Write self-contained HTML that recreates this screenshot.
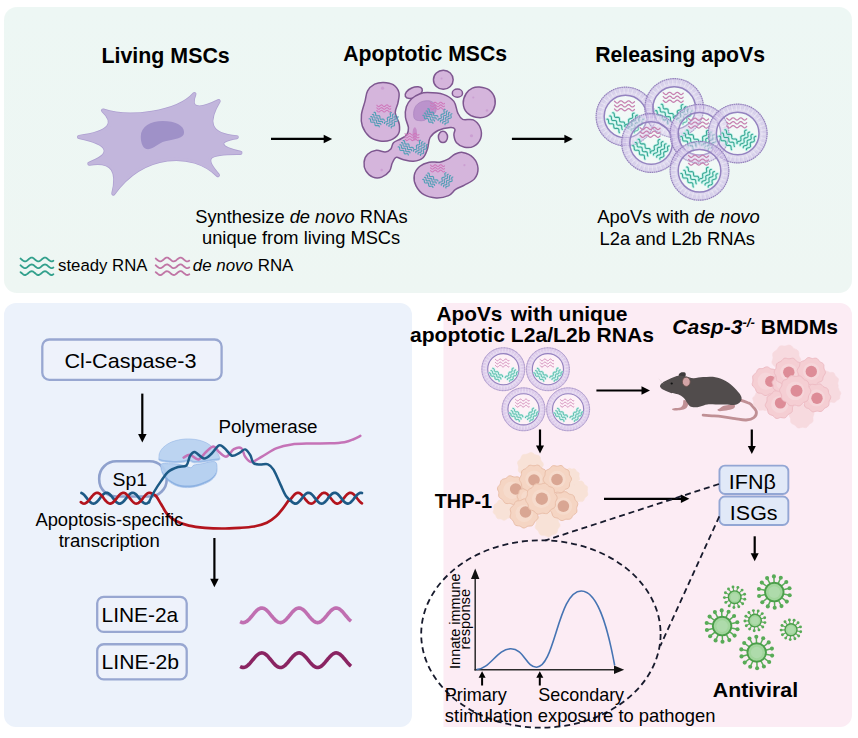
<!DOCTYPE html>
<html><head><meta charset="utf-8"><title>Graphical abstract</title>
<style>
html,body{margin:0;padding:0;background:#fff;}
body{width:858px;height:738px;overflow:hidden;font-family:"Liberation Sans",sans-serif;}
svg{display:block;}
svg text{font-family:"Liberation Sans",sans-serif;fill:#000;}
</style></head><body>
<svg width="858" height="738" viewBox="0 0 858 738">
<defs>
<linearGradient id="gTop" x1="0" y1="0" x2="0" y2="1"><stop offset="0" stop-color="#edf7f4"/><stop offset="1" stop-color="#eef6f3"/></linearGradient>

<g id="ves"><circle r="21.3" fill="#ffffff" opacity="0.25"/><circle r="25.5" fill="none" stroke="#c4b3e2" stroke-width="8.6" opacity="0.6"/><circle r="23.4" fill="none" stroke="#ffffff" stroke-width="3.2" opacity="0.2"/><circle r="25.6" fill="none" stroke="#ffffff" stroke-width="4.5" stroke-dasharray="1.6 2.6" opacity="0.3"/><circle r="25.5" fill="none" stroke="#ffffff" stroke-width="6.5" stroke-dasharray="0.6 1.5" opacity="0.2"/><circle r="29.4" fill="none" stroke="#8c79b6" stroke-width="1.15" stroke-dasharray="1.6 0.6" opacity="0.9"/><circle r="21.3" fill="none" stroke="#8f7dbd" stroke-width="1.5" opacity="0.95"/><path d="M-11.0,-15.3 L-10.4,-14.8 L-9.8,-14.2 L-9.2,-13.7 L-8.6,-13.5 L-8.0,-13.5 L-7.4,-13.8 L-6.8,-14.3 L-6.2,-14.9 L-5.5,-15.4 L-4.9,-15.7 L-4.3,-15.7 L-3.7,-15.5 L-3.1,-15.1 L-2.5,-14.5 L-1.9,-14.0 L-1.3,-13.6 L-0.7,-13.5 L-0.1,-13.6 L0.5,-14.0 L1.1,-14.5 L1.7,-15.1 L2.3,-15.5 L2.9,-15.7 L3.5,-15.7 L4.2,-15.3 L4.8,-14.8 L5.4,-14.2 L6.0,-13.8 L6.6,-13.5 L7.2,-13.5 L7.8,-13.8 L8.4,-14.2 L9.0,-14.8" fill="none" stroke="#c680b0" stroke-width="1.25" stroke-linecap="round"/><path d="M-11.0,-11.4 L-10.4,-10.9 L-9.8,-10.3 L-9.2,-9.8 L-8.6,-9.6 L-8.0,-9.6 L-7.4,-9.9 L-6.8,-10.4 L-6.2,-11.0 L-5.5,-11.5 L-4.9,-11.8 L-4.3,-11.8 L-3.7,-11.6 L-3.1,-11.2 L-2.5,-10.6 L-1.9,-10.1 L-1.3,-9.7 L-0.7,-9.6 L-0.1,-9.7 L0.5,-10.1 L1.1,-10.6 L1.7,-11.2 L2.3,-11.6 L2.9,-11.8 L3.5,-11.8 L4.2,-11.4 L4.8,-10.9 L5.4,-10.3 L6.0,-9.9 L6.6,-9.6 L7.2,-9.6 L7.8,-9.9 L8.4,-10.3 L9.0,-10.9" fill="none" stroke="#c680b0" stroke-width="1.25" stroke-linecap="round"/><path d="M-11.0,-7.5 L-10.4,-7.0 L-9.8,-6.4 L-9.2,-5.9 L-8.6,-5.7 L-8.0,-5.7 L-7.4,-6.0 L-6.8,-6.5 L-6.2,-7.1 L-5.5,-7.6 L-4.9,-7.9 L-4.3,-7.9 L-3.7,-7.7 L-3.1,-7.3 L-2.5,-6.7 L-1.9,-6.2 L-1.3,-5.8 L-0.7,-5.7 L-0.1,-5.8 L0.5,-6.2 L1.1,-6.7 L1.7,-7.3 L2.3,-7.7 L2.9,-7.9 L3.5,-7.9 L4.2,-7.5 L4.8,-7.0 L5.4,-6.4 L6.0,-6.0 L6.6,-5.7 L7.2,-5.7 L7.8,-6.0 L8.4,-6.4 L9.0,-7.0" fill="none" stroke="#c680b0" stroke-width="1.25" stroke-linecap="round"/><g transform="translate(-9.3,6.0) rotate(42)"><path d="M-9.2,-4.8 L-8.7,-5.3 L-8.1,-5.4 L-7.5,-5.2 L-6.9,-4.8 L-6.3,-4.2 L-5.7,-3.7 L-5.1,-3.3 L-4.5,-3.2 L-3.9,-3.4 L-3.3,-3.9 L-2.7,-4.5 L-2.1,-5.0 L-1.5,-5.4 L-0.9,-5.4 L-0.3,-5.1 L0.3,-4.6 L0.9,-4.0 L1.5,-3.5 L2.1,-3.2 L2.7,-3.3 L3.3,-3.6 L3.9,-4.2 L4.5,-4.8 L5.1,-5.2 L5.7,-5.4 L6.3,-5.3 L6.9,-4.9 L7.5,-4.3 L8.1,-3.7 L8.7,-3.3 L9.2,-3.2" fill="none" stroke="#a4efe2" stroke-width="2.7" stroke-linecap="round" opacity="0.7"/><path d="M-9.2,-4.8 L-8.7,-5.3 L-8.1,-5.4 L-7.5,-5.2 L-6.9,-4.8 L-6.3,-4.2 L-5.7,-3.7 L-5.1,-3.3 L-4.5,-3.2 L-3.9,-3.4 L-3.3,-3.9 L-2.7,-4.5 L-2.1,-5.0 L-1.5,-5.4 L-0.9,-5.4 L-0.3,-5.1 L0.3,-4.6 L0.9,-4.0 L1.5,-3.5 L2.1,-3.2 L2.7,-3.3 L3.3,-3.6 L3.9,-4.2 L4.5,-4.8 L5.1,-5.2 L5.7,-5.4 L6.3,-5.3 L6.9,-4.9 L7.5,-4.3 L8.1,-3.7 L8.7,-3.3 L9.2,-3.2" fill="none" stroke="#39a491" stroke-width="1.05" stroke-linecap="round"/><path d="M-9.2,-0.5 L-8.7,-1.0 L-8.1,-1.1 L-7.5,-0.9 L-6.9,-0.5 L-6.3,0.1 L-5.7,0.6 L-5.1,1.0 L-4.5,1.1 L-3.9,0.9 L-3.3,0.4 L-2.7,-0.2 L-2.1,-0.7 L-1.5,-1.1 L-0.9,-1.1 L-0.3,-0.8 L0.3,-0.3 L0.9,0.3 L1.5,0.8 L2.1,1.1 L2.7,1.0 L3.3,0.7 L3.9,0.1 L4.5,-0.5 L5.1,-0.9 L5.7,-1.1 L6.3,-1.0 L6.9,-0.6 L7.5,0.0 L8.1,0.6 L8.7,1.0 L9.2,1.1" fill="none" stroke="#a4efe2" stroke-width="2.7" stroke-linecap="round" opacity="0.7"/><path d="M-9.2,-0.5 L-8.7,-1.0 L-8.1,-1.1 L-7.5,-0.9 L-6.9,-0.5 L-6.3,0.1 L-5.7,0.6 L-5.1,1.0 L-4.5,1.1 L-3.9,0.9 L-3.3,0.4 L-2.7,-0.2 L-2.1,-0.7 L-1.5,-1.1 L-0.9,-1.1 L-0.3,-0.8 L0.3,-0.3 L0.9,0.3 L1.5,0.8 L2.1,1.1 L2.7,1.0 L3.3,0.7 L3.9,0.1 L4.5,-0.5 L5.1,-0.9 L5.7,-1.1 L6.3,-1.0 L6.9,-0.6 L7.5,0.0 L8.1,0.6 L8.7,1.0 L9.2,1.1" fill="none" stroke="#39a491" stroke-width="1.05" stroke-linecap="round"/><path d="M-9.2,3.8 L-8.7,3.3 L-8.1,3.2 L-7.5,3.4 L-6.9,3.8 L-6.3,4.4 L-5.7,4.9 L-5.1,5.3 L-4.5,5.4 L-3.9,5.2 L-3.3,4.7 L-2.7,4.1 L-2.1,3.6 L-1.5,3.2 L-0.9,3.2 L-0.3,3.5 L0.3,4.0 L0.9,4.6 L1.5,5.1 L2.1,5.4 L2.7,5.3 L3.3,5.0 L3.9,4.4 L4.5,3.8 L5.1,3.4 L5.7,3.2 L6.3,3.3 L6.9,3.7 L7.5,4.3 L8.1,4.9 L8.7,5.3 L9.2,5.4" fill="none" stroke="#a4efe2" stroke-width="2.7" stroke-linecap="round" opacity="0.7"/><path d="M-9.2,3.8 L-8.7,3.3 L-8.1,3.2 L-7.5,3.4 L-6.9,3.8 L-6.3,4.4 L-5.7,4.9 L-5.1,5.3 L-4.5,5.4 L-3.9,5.2 L-3.3,4.7 L-2.7,4.1 L-2.1,3.6 L-1.5,3.2 L-0.9,3.2 L-0.3,3.5 L0.3,4.0 L0.9,4.6 L1.5,5.1 L2.1,5.4 L2.7,5.3 L3.3,5.0 L3.9,4.4 L4.5,3.8 L5.1,3.4 L5.7,3.2 L6.3,3.3 L6.9,3.7 L7.5,4.3 L8.1,4.9 L8.7,5.3 L9.2,5.4" fill="none" stroke="#39a491" stroke-width="1.05" stroke-linecap="round"/></g><g transform="translate(9.0,6.6) rotate(-56)"><path d="M-8.2,-6.2 L-7.7,-6.6 L-7.1,-6.7 L-6.5,-6.6 L-5.9,-6.2 L-5.3,-5.7 L-4.7,-5.1 L-4.1,-4.8 L-3.5,-4.7 L-2.9,-4.8 L-2.4,-5.3 L-1.8,-5.8 L-1.2,-6.3 L-0.6,-6.7 L0.0,-6.7 L0.6,-6.5 L1.2,-6.0 L1.8,-5.5 L2.4,-5.0 L2.9,-4.7 L3.5,-4.7 L4.1,-4.9 L4.7,-5.4 L5.3,-6.0 L5.9,-6.5 L6.5,-6.7 L7.1,-6.7 L7.7,-6.4 L8.2,-5.9" fill="none" stroke="#a4efe2" stroke-width="2.7" stroke-linecap="round" opacity="0.7"/><path d="M-8.2,-6.2 L-7.7,-6.6 L-7.1,-6.7 L-6.5,-6.6 L-5.9,-6.2 L-5.3,-5.7 L-4.7,-5.1 L-4.1,-4.8 L-3.5,-4.7 L-2.9,-4.8 L-2.4,-5.3 L-1.8,-5.8 L-1.2,-6.3 L-0.6,-6.7 L0.0,-6.7 L0.6,-6.5 L1.2,-6.0 L1.8,-5.5 L2.4,-5.0 L2.9,-4.7 L3.5,-4.7 L4.1,-4.9 L4.7,-5.4 L5.3,-6.0 L5.9,-6.5 L6.5,-6.7 L7.1,-6.7 L7.7,-6.4 L8.2,-5.9" fill="none" stroke="#39a491" stroke-width="1.05" stroke-linecap="round"/><path d="M-8.2,-2.4 L-7.7,-2.8 L-7.1,-2.9 L-6.5,-2.8 L-5.9,-2.4 L-5.3,-1.9 L-4.7,-1.3 L-4.1,-1.0 L-3.5,-0.9 L-2.9,-1.0 L-2.4,-1.5 L-1.8,-2.0 L-1.2,-2.5 L-0.6,-2.9 L0.0,-2.9 L0.6,-2.7 L1.2,-2.2 L1.8,-1.7 L2.4,-1.2 L2.9,-0.9 L3.5,-0.9 L4.1,-1.1 L4.7,-1.6 L5.3,-2.2 L5.9,-2.7 L6.5,-2.9 L7.1,-2.9 L7.7,-2.6 L8.2,-2.1" fill="none" stroke="#a4efe2" stroke-width="2.7" stroke-linecap="round" opacity="0.7"/><path d="M-8.2,-2.4 L-7.7,-2.8 L-7.1,-2.9 L-6.5,-2.8 L-5.9,-2.4 L-5.3,-1.9 L-4.7,-1.3 L-4.1,-1.0 L-3.5,-0.9 L-2.9,-1.0 L-2.4,-1.5 L-1.8,-2.0 L-1.2,-2.5 L-0.6,-2.9 L0.0,-2.9 L0.6,-2.7 L1.2,-2.2 L1.8,-1.7 L2.4,-1.2 L2.9,-0.9 L3.5,-0.9 L4.1,-1.1 L4.7,-1.6 L5.3,-2.2 L5.9,-2.7 L6.5,-2.9 L7.1,-2.9 L7.7,-2.6 L8.2,-2.1" fill="none" stroke="#39a491" stroke-width="1.05" stroke-linecap="round"/><path d="M-8.2,1.4 L-7.7,1.0 L-7.1,0.9 L-6.5,1.0 L-5.9,1.4 L-5.3,1.9 L-4.7,2.5 L-4.1,2.8 L-3.5,2.9 L-2.9,2.8 L-2.4,2.3 L-1.8,1.8 L-1.2,1.3 L-0.6,0.9 L0.0,0.9 L0.6,1.1 L1.2,1.6 L1.8,2.1 L2.4,2.6 L2.9,2.9 L3.5,2.9 L4.1,2.7 L4.7,2.2 L5.3,1.6 L5.9,1.1 L6.5,0.9 L7.1,0.9 L7.7,1.2 L8.2,1.7" fill="none" stroke="#a4efe2" stroke-width="2.7" stroke-linecap="round" opacity="0.7"/><path d="M-8.2,1.4 L-7.7,1.0 L-7.1,0.9 L-6.5,1.0 L-5.9,1.4 L-5.3,1.9 L-4.7,2.5 L-4.1,2.8 L-3.5,2.9 L-2.9,2.8 L-2.4,2.3 L-1.8,1.8 L-1.2,1.3 L-0.6,0.9 L0.0,0.9 L0.6,1.1 L1.2,1.6 L1.8,2.1 L2.4,2.6 L2.9,2.9 L3.5,2.9 L4.1,2.7 L4.7,2.2 L5.3,1.6 L5.9,1.1 L6.5,0.9 L7.1,0.9 L7.7,1.2 L8.2,1.7" fill="none" stroke="#39a491" stroke-width="1.05" stroke-linecap="round"/><path d="M-8.2,5.2 L-7.7,4.8 L-7.1,4.7 L-6.5,4.8 L-5.9,5.2 L-5.3,5.7 L-4.7,6.3 L-4.1,6.6 L-3.5,6.7 L-2.9,6.6 L-2.4,6.1 L-1.8,5.6 L-1.2,5.1 L-0.6,4.7 L0.0,4.7 L0.6,4.9 L1.2,5.4 L1.8,5.9 L2.4,6.4 L2.9,6.7 L3.5,6.7 L4.1,6.5 L4.7,6.0 L5.3,5.4 L5.9,4.9 L6.5,4.7 L7.1,4.7 L7.7,5.0 L8.2,5.5" fill="none" stroke="#a4efe2" stroke-width="2.7" stroke-linecap="round" opacity="0.7"/><path d="M-8.2,5.2 L-7.7,4.8 L-7.1,4.7 L-6.5,4.8 L-5.9,5.2 L-5.3,5.7 L-4.7,6.3 L-4.1,6.6 L-3.5,6.7 L-2.9,6.6 L-2.4,6.1 L-1.8,5.6 L-1.2,5.1 L-0.6,4.7 L0.0,4.7 L0.6,4.9 L1.2,5.4 L1.8,5.9 L2.4,6.4 L2.9,6.7 L3.5,6.7 L4.1,6.5 L4.7,6.0 L5.3,5.4 L5.9,4.9 L6.5,4.7 L7.1,4.7 L7.7,5.0 L8.2,5.5" fill="none" stroke="#39a491" stroke-width="1.05" stroke-linecap="round"/></g></g><g id="ves2"><circle r="21.3" fill="#ffffff" opacity="0.25"/><circle r="25.5" fill="none" stroke="#c4b3e2" stroke-width="8.6" opacity="0.6"/><circle r="23.4" fill="none" stroke="#ffffff" stroke-width="3.2" opacity="0.2"/><circle r="25.6" fill="none" stroke="#ffffff" stroke-width="4.5" stroke-dasharray="1.6 2.6" opacity="0.3"/><circle r="25.5" fill="none" stroke="#ffffff" stroke-width="6.5" stroke-dasharray="0.6 1.5" opacity="0.2"/><circle r="29.4" fill="none" stroke="#8c79b6" stroke-width="1.15" stroke-dasharray="1.6 0.6" opacity="0.9"/><circle r="21.3" fill="none" stroke="#8f7dbd" stroke-width="1.5" opacity="0.95"/><path d="M-10.7,-13.4 L-10.1,-12.9 L-9.5,-12.3 L-8.9,-11.8 L-8.3,-11.5 L-7.7,-11.5 L-7.1,-11.8 L-6.5,-12.3 L-5.9,-12.9 L-5.3,-13.4 L-4.7,-13.8 L-4.1,-13.9 L-3.5,-13.7 L-2.9,-13.3 L-2.3,-12.7 L-1.7,-12.2 L-1.1,-11.7 L-0.5,-11.5 L0.1,-11.6 L0.7,-11.9 L1.3,-12.5 L1.9,-13.0 L2.5,-13.6 L3.1,-13.9 L3.7,-13.9 L4.3,-13.6 L4.9,-13.1 L5.5,-12.6 L6.1,-12.0 L6.7,-11.6 L7.3,-11.5 L7.8,-11.7" fill="none" stroke="#cf86b6" stroke-width="1.35" stroke-linecap="round"/><path d="M-10.7,-9.2 L-10.1,-8.7 L-9.5,-8.1 L-8.9,-7.6 L-8.3,-7.3 L-7.7,-7.3 L-7.1,-7.6 L-6.5,-8.1 L-5.9,-8.7 L-5.3,-9.2 L-4.7,-9.6 L-4.1,-9.7 L-3.5,-9.5 L-2.9,-9.1 L-2.3,-8.5 L-1.7,-8.0 L-1.1,-7.5 L-0.5,-7.3 L0.1,-7.4 L0.7,-7.7 L1.3,-8.3 L1.9,-8.8 L2.5,-9.4 L3.1,-9.7 L3.7,-9.7 L4.3,-9.4 L4.9,-8.9 L5.5,-8.4 L6.1,-7.8 L6.7,-7.4 L7.3,-7.3 L7.8,-7.5" fill="none" stroke="#cf86b6" stroke-width="1.35" stroke-linecap="round"/><path d="M-10.7,-5.0 L-10.1,-4.5 L-9.5,-3.9 L-8.9,-3.4 L-8.3,-3.1 L-7.7,-3.1 L-7.1,-3.4 L-6.5,-3.9 L-5.9,-4.5 L-5.3,-5.0 L-4.7,-5.4 L-4.1,-5.5 L-3.5,-5.3 L-2.9,-4.9 L-2.3,-4.3 L-1.7,-3.8 L-1.1,-3.3 L-0.5,-3.1 L0.1,-3.2 L0.7,-3.5 L1.3,-4.1 L1.9,-4.6 L2.5,-5.2 L3.1,-5.5 L3.7,-5.5 L4.3,-5.2 L4.9,-4.7 L5.5,-4.2 L6.1,-3.6 L6.7,-3.2 L7.3,-3.1 L7.8,-3.3" fill="none" stroke="#cf86b6" stroke-width="1.35" stroke-linecap="round"/><g transform="translate(-10.2,7.8) rotate(38)"><path d="M-8.8,-4.5 L-8.1,-4.9 L-7.5,-5.0 L-6.9,-4.9 L-6.3,-4.5 L-5.7,-3.9 L-5.1,-3.3 L-4.5,-2.9 L-3.9,-2.8 L-3.3,-2.9 L-2.7,-3.3 L-2.1,-3.9 L-1.5,-4.5 L-0.9,-4.9 L-0.3,-5.0 L0.3,-4.9 L0.9,-4.5 L1.5,-3.9 L2.1,-3.3 L2.7,-2.9 L3.3,-2.8 L3.9,-2.9 L4.5,-3.4 L5.1,-4.0 L5.7,-4.5 L6.3,-4.9 L6.9,-5.0 L7.5,-4.9 L8.1,-4.4 L8.8,-3.8" fill="none" stroke="#a9f0e4" stroke-width="3.0" stroke-linecap="round" opacity="0.7"/><path d="M-8.8,-4.5 L-8.1,-4.9 L-7.5,-5.0 L-6.9,-4.9 L-6.3,-4.5 L-5.7,-3.9 L-5.1,-3.3 L-4.5,-2.9 L-3.9,-2.8 L-3.3,-2.9 L-2.7,-3.3 L-2.1,-3.9 L-1.5,-4.5 L-0.9,-4.9 L-0.3,-5.0 L0.3,-4.9 L0.9,-4.5 L1.5,-3.9 L2.1,-3.3 L2.7,-2.9 L3.3,-2.8 L3.9,-2.9 L4.5,-3.4 L5.1,-4.0 L5.7,-4.5 L6.3,-4.9 L6.9,-5.0 L7.5,-4.9 L8.1,-4.4 L8.8,-3.8" fill="none" stroke="#45ad9b" stroke-width="1.15" stroke-linecap="round"/><path d="M-8.8,-0.6 L-8.1,-1.0 L-7.5,-1.1 L-6.9,-1.0 L-6.3,-0.6 L-5.7,-0.0 L-5.1,0.6 L-4.5,1.0 L-3.9,1.1 L-3.3,1.0 L-2.7,0.6 L-2.1,-0.0 L-1.5,-0.6 L-0.9,-1.0 L-0.3,-1.1 L0.3,-1.0 L0.9,-0.6 L1.5,0.0 L2.1,0.6 L2.7,1.0 L3.3,1.1 L3.9,1.0 L4.5,0.5 L5.1,-0.1 L5.7,-0.6 L6.3,-1.0 L6.9,-1.1 L7.5,-1.0 L8.1,-0.5 L8.8,0.1" fill="none" stroke="#a9f0e4" stroke-width="3.0" stroke-linecap="round" opacity="0.7"/><path d="M-8.8,-0.6 L-8.1,-1.0 L-7.5,-1.1 L-6.9,-1.0 L-6.3,-0.6 L-5.7,-0.0 L-5.1,0.6 L-4.5,1.0 L-3.9,1.1 L-3.3,1.0 L-2.7,0.6 L-2.1,-0.0 L-1.5,-0.6 L-0.9,-1.0 L-0.3,-1.1 L0.3,-1.0 L0.9,-0.6 L1.5,0.0 L2.1,0.6 L2.7,1.0 L3.3,1.1 L3.9,1.0 L4.5,0.5 L5.1,-0.1 L5.7,-0.6 L6.3,-1.0 L6.9,-1.1 L7.5,-1.0 L8.1,-0.5 L8.8,0.1" fill="none" stroke="#45ad9b" stroke-width="1.15" stroke-linecap="round"/><path d="M-8.8,3.3 L-8.1,2.9 L-7.5,2.8 L-6.9,2.9 L-6.3,3.3 L-5.7,3.9 L-5.1,4.5 L-4.5,4.9 L-3.9,5.0 L-3.3,4.9 L-2.7,4.5 L-2.1,3.9 L-1.5,3.3 L-0.9,2.9 L-0.3,2.8 L0.3,2.9 L0.9,3.3 L1.5,3.9 L2.1,4.5 L2.7,4.9 L3.3,5.0 L3.9,4.9 L4.5,4.4 L5.1,3.8 L5.7,3.3 L6.3,2.9 L6.9,2.8 L7.5,2.9 L8.1,3.4 L8.8,4.0" fill="none" stroke="#a9f0e4" stroke-width="3.0" stroke-linecap="round" opacity="0.7"/><path d="M-8.8,3.3 L-8.1,2.9 L-7.5,2.8 L-6.9,2.9 L-6.3,3.3 L-5.7,3.9 L-5.1,4.5 L-4.5,4.9 L-3.9,5.0 L-3.3,4.9 L-2.7,4.5 L-2.1,3.9 L-1.5,3.3 L-0.9,2.9 L-0.3,2.8 L0.3,2.9 L0.9,3.3 L1.5,3.9 L2.1,4.5 L2.7,4.9 L3.3,5.0 L3.9,4.9 L4.5,4.4 L5.1,3.8 L5.7,3.3 L6.3,2.9 L6.9,2.8 L7.5,2.9 L8.1,3.4 L8.8,4.0" fill="none" stroke="#45ad9b" stroke-width="1.15" stroke-linecap="round"/></g><g transform="translate(11.6,7.8) rotate(-50)"><path d="M-8.5,-4.5 L-7.9,-4.9 L-7.3,-5.0 L-6.7,-4.9 L-6.1,-4.5 L-5.5,-3.9 L-4.9,-3.3 L-4.2,-2.9 L-3.6,-2.8 L-3.0,-2.9 L-2.4,-3.4 L-1.8,-4.0 L-1.2,-4.5 L-0.6,-4.9 L0.0,-5.0 L0.6,-4.9 L1.2,-4.4 L1.8,-3.8 L2.4,-3.2 L3.0,-2.9 L3.6,-2.8 L4.2,-3.0 L4.9,-3.4 L5.5,-4.0 L6.1,-4.6 L6.7,-5.0 L7.3,-5.0 L7.9,-4.8 L8.5,-4.3" fill="none" stroke="#a9f0e4" stroke-width="3.0" stroke-linecap="round" opacity="0.7"/><path d="M-8.5,-4.5 L-7.9,-4.9 L-7.3,-5.0 L-6.7,-4.9 L-6.1,-4.5 L-5.5,-3.9 L-4.9,-3.3 L-4.2,-2.9 L-3.6,-2.8 L-3.0,-2.9 L-2.4,-3.4 L-1.8,-4.0 L-1.2,-4.5 L-0.6,-4.9 L0.0,-5.0 L0.6,-4.9 L1.2,-4.4 L1.8,-3.8 L2.4,-3.2 L3.0,-2.9 L3.6,-2.8 L4.2,-3.0 L4.9,-3.4 L5.5,-4.0 L6.1,-4.6 L6.7,-5.0 L7.3,-5.0 L7.9,-4.8 L8.5,-4.3" fill="none" stroke="#45ad9b" stroke-width="1.15" stroke-linecap="round"/><path d="M-8.5,-0.6 L-7.9,-1.0 L-7.3,-1.1 L-6.7,-1.0 L-6.1,-0.6 L-5.5,0.0 L-4.9,0.6 L-4.2,1.0 L-3.6,1.1 L-3.0,1.0 L-2.4,0.5 L-1.8,-0.1 L-1.2,-0.6 L-0.6,-1.0 L0.0,-1.1 L0.6,-1.0 L1.2,-0.5 L1.8,0.1 L2.4,0.7 L3.0,1.0 L3.6,1.1 L4.2,0.9 L4.9,0.5 L5.5,-0.1 L6.1,-0.7 L6.7,-1.1 L7.3,-1.1 L7.9,-0.9 L8.5,-0.4" fill="none" stroke="#a9f0e4" stroke-width="3.0" stroke-linecap="round" opacity="0.7"/><path d="M-8.5,-0.6 L-7.9,-1.0 L-7.3,-1.1 L-6.7,-1.0 L-6.1,-0.6 L-5.5,0.0 L-4.9,0.6 L-4.2,1.0 L-3.6,1.1 L-3.0,1.0 L-2.4,0.5 L-1.8,-0.1 L-1.2,-0.6 L-0.6,-1.0 L0.0,-1.1 L0.6,-1.0 L1.2,-0.5 L1.8,0.1 L2.4,0.7 L3.0,1.0 L3.6,1.1 L4.2,0.9 L4.9,0.5 L5.5,-0.1 L6.1,-0.7 L6.7,-1.1 L7.3,-1.1 L7.9,-0.9 L8.5,-0.4" fill="none" stroke="#45ad9b" stroke-width="1.15" stroke-linecap="round"/><path d="M-8.5,3.3 L-7.9,2.9 L-7.3,2.8 L-6.7,2.9 L-6.1,3.3 L-5.5,3.9 L-4.9,4.5 L-4.2,4.9 L-3.6,5.0 L-3.0,4.9 L-2.4,4.4 L-1.8,3.8 L-1.2,3.3 L-0.6,2.9 L0.0,2.8 L0.6,2.9 L1.2,3.4 L1.8,4.0 L2.4,4.6 L3.0,4.9 L3.6,5.0 L4.2,4.8 L4.9,4.4 L5.5,3.8 L6.1,3.2 L6.7,2.8 L7.3,2.8 L7.9,3.0 L8.5,3.5" fill="none" stroke="#a9f0e4" stroke-width="3.0" stroke-linecap="round" opacity="0.7"/><path d="M-8.5,3.3 L-7.9,2.9 L-7.3,2.8 L-6.7,2.9 L-6.1,3.3 L-5.5,3.9 L-4.9,4.5 L-4.2,4.9 L-3.6,5.0 L-3.0,4.9 L-2.4,4.4 L-1.8,3.8 L-1.2,3.3 L-0.6,2.9 L0.0,2.8 L0.6,2.9 L1.2,3.4 L1.8,4.0 L2.4,4.6 L3.0,4.9 L3.6,5.0 L4.2,4.8 L4.9,4.4 L5.5,3.8 L6.1,3.2 L6.7,2.8 L7.3,2.8 L7.9,3.0 L8.5,3.5" fill="none" stroke="#45ad9b" stroke-width="1.15" stroke-linecap="round"/></g></g>
</defs><rect x="0" y="0" width="858" height="738" fill="#ffffff"/>
<rect x="4" y="7" width="848" height="286" rx="13" ry="13" fill="url(#gTop)"/>
<rect x="4" y="303" width="408" height="424" rx="12" ry="12" fill="#ecf2fb"/>
<path d="M443.5,303 H840 a12,12 0 0 1 12,12 V715 a12,12 0 0 1 -12,12 H443.5 Z" fill="#fcecf4"/>
<g transform="translate(60,30) scale(0.24476)">
<path d="M176,329 C280,365 480,340 549,262 C525,320 560,335 648,291 C600,370 600,430 722,438 C640,450 640,480 737,502 C600,500 580,520 645,593 C540,490 340,500 218,668 C240,580 220,530 120,546 C215,510 215,465 78,437 C210,420 230,380 176,329 Z" fill="#c2b6dc" stroke="#ad9fd0" stroke-width="17" stroke-linejoin="round"/>
<path d="M176,329 C280,365 480,340 549,262 C525,320 560,335 648,291 C600,370 600,430 722,438 C640,450 640,480 737,502 C600,500 580,520 645,593 C540,490 340,500 218,668 C240,580 220,530 120,546 C215,510 215,465 78,437 C210,420 230,380 176,329 Z" fill="#c2b6dc" stroke="#c2b6dc" stroke-width="11" stroke-linejoin="round"/>
<path d="M330,435 C330,395 370,372 420,372 C470,372 507,390 507,418 C507,445 470,445 430,455 C400,462 385,487 360,487 C340,487 330,465 330,435 Z" fill="#9f91c8"/>
</g>
<g transform="translate(350,75) scale(0.17606)" stroke-linejoin="round">
<path d="M190.0,42.0 C207.5,42.5 230.3,45.3 245.0,55.0 C259.7,64.7 273.5,82.5 278.0,100.0 C282.5,117.5 275.5,140.8 272.0,160.0 C268.5,179.2 255.7,195.0 257.0,215.0 C258.3,235.0 277.0,260.0 280.0,280.0 C283.0,300.0 283.3,320.0 275.0,335.0 C266.7,350.0 247.5,363.3 230.0,370.0 C212.5,376.7 190.0,378.3 170.0,375.0 C150.0,371.7 126.7,364.2 110.0,350.0 C93.3,335.8 77.5,310.8 70.0,290.0 C62.5,269.2 62.5,248.3 65.0,225.0 C67.5,201.7 79.2,172.5 85.0,150.0 C90.8,127.5 90.8,106.3 100.0,90.0 C109.2,73.7 125.0,60.0 140.0,52.0 C155.0,44.0 172.5,41.5 190.0,42.0Z" fill="#d5b5dc" stroke="#7e5790" stroke-width="8.5"/>
<ellipse cx="530" cy="27" rx="56" ry="54" fill="#d5b5dc" stroke="#7e5790" stroke-width="8.5"/>
<ellipse cx="362" cy="100" rx="52" ry="29" transform="rotate(-24 362 100)" fill="#d5b5dc" stroke="#7e5790" stroke-width="8.5"/>
<ellipse cx="610" cy="103" rx="29" ry="23" fill="#d5b5dc" stroke="#7e5790" stroke-width="8.5"/>
<path d="M735.0,68.0 C750.8,69.7 775.3,73.8 790.0,85.0 C804.7,96.2 818.8,116.7 823.0,135.0 C827.2,153.3 823.0,178.3 815.0,195.0 C807.0,211.7 791.7,227.5 775.0,235.0 C758.3,242.5 733.3,243.3 715.0,240.0 C696.7,236.7 677.0,228.3 665.0,215.0 C653.0,201.7 643.8,178.3 643.0,160.0 C642.2,141.7 651.3,119.2 660.0,105.0 C668.7,90.8 682.5,81.2 695.0,75.0 C707.5,68.8 719.2,66.3 735.0,68.0Z" fill="#d5b5dc" stroke="#7e5790" stroke-width="8.5"/>
<path d="M440.0,100.0 C462.5,100.3 505.0,101.7 530.0,110.0 C555.0,118.3 576.3,132.5 590.0,150.0 C603.7,167.5 603.7,198.0 612.0,215.0 C620.3,232.0 625.3,245.3 640.0,252.0 C654.7,258.7 683.3,247.0 700.0,255.0 C716.7,263.0 733.0,282.5 740.0,300.0 C747.0,317.5 748.3,342.5 742.0,360.0 C735.7,377.5 717.3,396.7 702.0,405.0 C686.7,413.3 666.2,413.3 650.0,410.0 C633.8,406.7 615.0,396.7 605.0,385.0 C595.0,373.3 591.5,352.8 590.0,340.0 C588.5,327.2 599.3,315.0 596.0,308.0 C592.7,301.0 586.0,296.8 570.0,298.0 C554.0,299.2 519.2,305.5 500.0,315.0 C480.8,324.5 465.0,337.5 455.0,355.0 C445.0,372.5 446.7,400.8 440.0,420.0 C433.3,439.2 428.3,458.3 415.0,470.0 C401.7,481.7 379.2,488.3 360.0,490.0 C340.8,491.7 316.3,483.7 300.0,480.0 C283.7,476.3 272.0,464.7 262.0,468.0 C252.0,471.3 246.2,487.2 240.0,500.0 C233.8,512.8 235.0,531.7 225.0,545.0 C215.0,558.3 195.8,574.2 180.0,580.0 C164.2,585.8 145.0,585.8 130.0,580.0 C115.0,574.2 98.3,559.2 90.0,545.0 C81.7,530.8 78.3,510.8 80.0,495.0 C81.7,479.2 88.3,461.2 100.0,450.0 C111.7,438.8 133.3,430.2 150.0,428.0 C166.7,425.8 186.3,438.3 200.0,437.0 C213.7,435.7 224.2,428.7 232.0,420.0 C239.8,411.3 237.3,394.7 247.0,385.0 C256.7,375.3 277.5,369.5 290.0,362.0 C302.5,354.5 315.0,350.3 322.0,340.0 C329.0,329.7 333.2,316.7 332.0,300.0 C330.8,283.3 317.0,260.0 315.0,240.0 C313.0,220.0 314.2,197.5 320.0,180.0 C325.8,162.5 337.5,147.0 350.0,135.0 C362.5,123.0 380.0,113.8 395.0,108.0 C410.0,102.2 417.5,99.7 440.0,100.0Z" fill="#d5b5dc" stroke="#7e5790" stroke-width="8.5"/>
<ellipse cx="528" cy="352" rx="26" ry="32" fill="#d5b5dc" stroke="#7e5790" stroke-width="8.5"/>
<path d="M640.0,440.0 C657.5,443.3 685.5,455.0 700.0,470.0 C714.5,485.0 725.8,510.0 727.0,530.0 C728.2,550.0 719.8,574.2 707.0,590.0 C694.2,605.8 667.8,615.0 650.0,625.0 C632.2,635.0 615.0,640.0 600.0,650.0 C585.0,660.0 578.3,677.0 560.0,685.0 C541.7,693.0 513.3,698.8 490.0,698.0 C466.7,697.2 439.2,691.3 420.0,680.0 C400.8,668.7 384.2,648.3 375.0,630.0 C365.8,611.7 361.7,588.3 365.0,570.0 C368.3,551.7 380.8,532.5 395.0,520.0 C409.2,507.5 430.8,499.2 450.0,495.0 C469.2,490.8 491.7,498.2 510.0,495.0 C528.3,491.8 545.8,483.5 560.0,476.0 C574.2,468.5 581.7,456.0 595.0,450.0 C608.3,444.0 622.5,436.7 640.0,440.0Z" fill="#d5b5dc" stroke="#7e5790" stroke-width="8.5"/>
<path d="M366.8,248.8 C361.0,240.4 360.5,221.7 362.1,209.1 C363.8,196.4 368.7,182.4 376.7,172.7 C384.6,162.9 397.6,155.1 409.8,150.8 C421.9,146.5 437.9,144.8 449.5,146.8 C461.1,148.8 472.7,155.7 479.3,162.7 C485.9,169.8 488.7,180.4 489.2,189.2 C489.8,198.0 487.9,209.5 482.6,215.7 C477.3,221.9 464.9,222.3 457.4,226.3 C449.9,230.2 442.8,234.7 437.6,239.5 C432.4,244.4 433.2,252.1 426.3,255.4 C419.5,258.7 406.5,260.5 396.5,259.4 C386.6,258.3 372.5,257.2 366.8,248.8Z" fill="#b990cb" stroke="#a47dba" stroke-width="4" opacity="0.9"/>
<ellipse cx="368" cy="335" rx="13" ry="38" fill="#c383c4" opacity="0.8"/>
<circle cx="185" cy="75" r="9" fill="#c48fcb" opacity="0.6"/>
<circle cx="690" cy="345" r="9" fill="#c48fcb" opacity="0.6"/>
<circle cx="778" cy="202" r="7" fill="#c48fcb" opacity="0.6"/>
<circle cx="700" cy="128" r="6" fill="#c48fcb" opacity="0.6"/>
<circle cx="180" cy="540" r="7" fill="#c48fcb" opacity="0.6"/>
<circle cx="650" cy="512" r="6" fill="#c48fcb" opacity="0.6"/>
<circle cx="520" cy="20" r="6" fill="#c48fcb" opacity="0.6"/>
</g>
<path d="M376.8,105.2 L377.4,105.8 L378.0,106.4 L378.6,106.6 L379.2,106.5 L379.8,106.0 L380.5,105.4 L381.1,105.0 L381.7,104.9 L382.3,105.2 L382.9,105.8 L383.5,106.3 L384.1,106.6 L384.7,106.5 L385.3,106.0 L385.9,105.4 L386.5,105.0 L387.2,104.9 L387.8,105.2 L388.4,105.8 L389.0,106.3 L389.6,106.6 L390.2,106.5 L390.8,106.1" fill="none" stroke="#cf78bb" stroke-width="1.05" stroke-linecap="round"/><path d="M376.8,107.9 L377.4,108.5 L378.0,109.1 L378.6,109.3 L379.2,109.2 L379.8,108.7 L380.5,108.1 L381.1,107.7 L381.7,107.6 L382.3,107.9 L382.9,108.5 L383.5,109.0 L384.1,109.3 L384.7,109.2 L385.3,108.7 L385.9,108.1 L386.5,107.7 L387.2,107.6 L387.8,107.9 L388.4,108.5 L389.0,109.0 L389.6,109.3 L390.2,109.2 L390.8,108.8" fill="none" stroke="#cf78bb" stroke-width="1.05" stroke-linecap="round"/><path d="M376.8,110.6 L377.4,111.2 L378.0,111.8 L378.6,112.0 L379.2,111.9 L379.8,111.4 L380.5,110.8 L381.1,110.4 L381.7,110.3 L382.3,110.6 L382.9,111.2 L383.5,111.7 L384.1,112.0 L384.7,111.9 L385.3,111.4 L385.9,110.8 L386.5,110.4 L387.2,110.3 L387.8,110.6 L388.4,111.2 L389.0,111.7 L389.6,112.0 L390.2,111.9 L390.8,111.5" fill="none" stroke="#cf78bb" stroke-width="1.05" stroke-linecap="round"/>
<g transform="translate(376.4,119.9) rotate(38)"><path d="M-6.5,-4.5 L-5.9,-5.0 L-5.3,-5.0 L-4.7,-4.6 L-4.1,-4.0 L-3.5,-3.4 L-3.0,-3.1 L-2.4,-3.2 L-1.8,-3.7 L-1.2,-4.3 L-0.6,-4.9 L0.0,-5.0 L0.6,-4.8 L1.2,-4.2 L1.8,-3.5 L2.4,-3.1 L3.0,-3.1 L3.5,-3.5 L4.1,-4.1 L4.7,-4.7 L5.3,-5.0 L5.9,-4.9 L6.5,-4.4" fill="none" stroke="#539fb6" stroke-width="1.15" stroke-linecap="round"/><path d="M-6.5,-1.8 L-5.9,-2.3 L-5.3,-2.3 L-4.7,-1.9 L-4.1,-1.3 L-3.5,-0.7 L-3.0,-0.4 L-2.4,-0.5 L-1.8,-1.0 L-1.2,-1.6 L-0.6,-2.2 L0.0,-2.3 L0.6,-2.1 L1.2,-1.5 L1.8,-0.8 L2.4,-0.4 L3.0,-0.4 L3.5,-0.8 L4.1,-1.4 L4.7,-2.0 L5.3,-2.3 L5.9,-2.2 L6.5,-1.7" fill="none" stroke="#539fb6" stroke-width="1.15" stroke-linecap="round"/><path d="M-6.5,0.9 L-5.9,0.4 L-5.3,0.4 L-4.7,0.8 L-4.1,1.4 L-3.5,2.0 L-3.0,2.3 L-2.4,2.2 L-1.8,1.7 L-1.2,1.1 L-0.6,0.5 L0.0,0.4 L0.6,0.6 L1.2,1.2 L1.8,1.9 L2.4,2.3 L3.0,2.3 L3.5,1.9 L4.1,1.3 L4.7,0.7 L5.3,0.4 L5.9,0.5 L6.5,1.0" fill="none" stroke="#539fb6" stroke-width="1.15" stroke-linecap="round"/><path d="M-6.5,3.6 L-5.9,3.1 L-5.3,3.1 L-4.7,3.5 L-4.1,4.1 L-3.5,4.7 L-3.0,5.0 L-2.4,4.9 L-1.8,4.4 L-1.2,3.8 L-0.6,3.2 L0.0,3.1 L0.6,3.3 L1.2,3.9 L1.8,4.6 L2.4,5.0 L3.0,5.0 L3.5,4.6 L4.1,4.0 L4.7,3.4 L5.3,3.1 L5.9,3.2 L6.5,3.7" fill="none" stroke="#539fb6" stroke-width="1.15" stroke-linecap="round"/></g>
<g transform="translate(391.7,120.4) rotate(-58)"><path d="M-6.5,-4.5 L-5.9,-5.0 L-5.3,-5.0 L-4.7,-4.6 L-4.1,-4.0 L-3.5,-3.4 L-3.0,-3.1 L-2.4,-3.2 L-1.8,-3.7 L-1.2,-4.3 L-0.6,-4.9 L0.0,-5.0 L0.6,-4.8 L1.2,-4.2 L1.8,-3.5 L2.4,-3.1 L3.0,-3.1 L3.5,-3.5 L4.1,-4.1 L4.7,-4.7 L5.3,-5.0 L5.9,-4.9 L6.5,-4.4" fill="none" stroke="#539fb6" stroke-width="1.15" stroke-linecap="round"/><path d="M-6.5,-1.8 L-5.9,-2.3 L-5.3,-2.3 L-4.7,-1.9 L-4.1,-1.3 L-3.5,-0.7 L-3.0,-0.4 L-2.4,-0.5 L-1.8,-1.0 L-1.2,-1.6 L-0.6,-2.2 L0.0,-2.3 L0.6,-2.1 L1.2,-1.5 L1.8,-0.8 L2.4,-0.4 L3.0,-0.4 L3.5,-0.8 L4.1,-1.4 L4.7,-2.0 L5.3,-2.3 L5.9,-2.2 L6.5,-1.7" fill="none" stroke="#539fb6" stroke-width="1.15" stroke-linecap="round"/><path d="M-6.5,0.9 L-5.9,0.4 L-5.3,0.4 L-4.7,0.8 L-4.1,1.4 L-3.5,2.0 L-3.0,2.3 L-2.4,2.2 L-1.8,1.7 L-1.2,1.1 L-0.6,0.5 L0.0,0.4 L0.6,0.6 L1.2,1.2 L1.8,1.9 L2.4,2.3 L3.0,2.3 L3.5,1.9 L4.1,1.3 L4.7,0.7 L5.3,0.4 L5.9,0.5 L6.5,1.0" fill="none" stroke="#539fb6" stroke-width="1.15" stroke-linecap="round"/><path d="M-6.5,3.6 L-5.9,3.1 L-5.3,3.1 L-4.7,3.5 L-4.1,4.1 L-3.5,4.7 L-3.0,5.0 L-2.4,4.9 L-1.8,4.4 L-1.2,3.8 L-0.6,3.2 L0.0,3.1 L0.6,3.3 L1.2,3.9 L1.8,4.6 L2.4,5.0 L3.0,5.0 L3.5,4.6 L4.1,4.0 L4.7,3.4 L5.3,3.1 L5.9,3.2 L6.5,3.7" fill="none" stroke="#539fb6" stroke-width="1.15" stroke-linecap="round"/></g>
<path d="M430.5,102.6 L431.1,103.2 L431.7,103.7 L432.3,104.0 L432.9,103.9 L433.5,103.4 L434.2,102.8 L434.8,102.3 L435.4,102.2 L436.0,102.6 L436.6,103.1 L437.2,103.7 L437.8,104.0 L438.4,103.9 L439.0,103.4 L439.6,102.8 L440.2,102.3 L440.8,102.2 L441.5,102.5 L442.1,103.1 L442.7,103.7 L443.3,104.0 L443.9,103.9 L444.5,103.4" fill="none" stroke="#cf78bb" stroke-width="1.05" stroke-linecap="round"/><path d="M430.5,105.3 L431.1,105.9 L431.7,106.4 L432.3,106.7 L432.9,106.6 L433.5,106.1 L434.2,105.5 L434.8,105.0 L435.4,104.9 L436.0,105.3 L436.6,105.8 L437.2,106.4 L437.8,106.7 L438.4,106.6 L439.0,106.1 L439.6,105.5 L440.2,105.0 L440.8,104.9 L441.5,105.2 L442.1,105.8 L442.7,106.4 L443.3,106.7 L443.9,106.6 L444.5,106.1" fill="none" stroke="#cf78bb" stroke-width="1.05" stroke-linecap="round"/><path d="M430.5,108.0 L431.1,108.6 L431.7,109.1 L432.3,109.4 L432.9,109.3 L433.5,108.8 L434.2,108.2 L434.8,107.7 L435.4,107.6 L436.0,108.0 L436.6,108.5 L437.2,109.1 L437.8,109.4 L438.4,109.3 L439.0,108.8 L439.6,108.2 L440.2,107.7 L440.8,107.6 L441.5,107.9 L442.1,108.5 L442.7,109.1 L443.3,109.4 L443.9,109.3 L444.5,108.8" fill="none" stroke="#cf78bb" stroke-width="1.05" stroke-linecap="round"/>
<g transform="translate(430.1,116.4) rotate(38)"><path d="M-6.5,-4.5 L-5.9,-5.0 L-5.3,-5.0 L-4.7,-4.6 L-4.1,-4.0 L-3.5,-3.4 L-3.0,-3.1 L-2.4,-3.2 L-1.8,-3.7 L-1.2,-4.3 L-0.6,-4.9 L0.0,-5.0 L0.6,-4.8 L1.2,-4.2 L1.8,-3.5 L2.4,-3.1 L3.0,-3.1 L3.5,-3.5 L4.1,-4.1 L4.7,-4.7 L5.3,-5.0 L5.9,-4.9 L6.5,-4.4" fill="none" stroke="#539fb6" stroke-width="1.15" stroke-linecap="round"/><path d="M-6.5,-1.8 L-5.9,-2.3 L-5.3,-2.3 L-4.7,-1.9 L-4.1,-1.3 L-3.5,-0.7 L-3.0,-0.4 L-2.4,-0.5 L-1.8,-1.0 L-1.2,-1.6 L-0.6,-2.2 L0.0,-2.3 L0.6,-2.1 L1.2,-1.5 L1.8,-0.8 L2.4,-0.4 L3.0,-0.4 L3.5,-0.8 L4.1,-1.4 L4.7,-2.0 L5.3,-2.3 L5.9,-2.2 L6.5,-1.7" fill="none" stroke="#539fb6" stroke-width="1.15" stroke-linecap="round"/><path d="M-6.5,0.9 L-5.9,0.4 L-5.3,0.4 L-4.7,0.8 L-4.1,1.4 L-3.5,2.0 L-3.0,2.3 L-2.4,2.2 L-1.8,1.7 L-1.2,1.1 L-0.6,0.5 L0.0,0.4 L0.6,0.6 L1.2,1.2 L1.8,1.9 L2.4,2.3 L3.0,2.3 L3.5,1.9 L4.1,1.3 L4.7,0.7 L5.3,0.4 L5.9,0.5 L6.5,1.0" fill="none" stroke="#539fb6" stroke-width="1.15" stroke-linecap="round"/><path d="M-6.5,3.6 L-5.9,3.1 L-5.3,3.1 L-4.7,3.5 L-4.1,4.1 L-3.5,4.7 L-3.0,5.0 L-2.4,4.9 L-1.8,4.4 L-1.2,3.8 L-0.6,3.2 L0.0,3.1 L0.6,3.3 L1.2,3.9 L1.8,4.6 L2.4,5.0 L3.0,5.0 L3.5,4.6 L4.1,4.0 L4.7,3.4 L5.3,3.1 L5.9,3.2 L6.5,3.7" fill="none" stroke="#539fb6" stroke-width="1.15" stroke-linecap="round"/></g>
<g transform="translate(445.4,117.3) rotate(-58)"><path d="M-6.5,-4.5 L-5.9,-5.0 L-5.3,-5.0 L-4.7,-4.6 L-4.1,-4.0 L-3.5,-3.4 L-3.0,-3.1 L-2.4,-3.2 L-1.8,-3.7 L-1.2,-4.3 L-0.6,-4.9 L0.0,-5.0 L0.6,-4.8 L1.2,-4.2 L1.8,-3.5 L2.4,-3.1 L3.0,-3.1 L3.5,-3.5 L4.1,-4.1 L4.7,-4.7 L5.3,-5.0 L5.9,-4.9 L6.5,-4.4" fill="none" stroke="#539fb6" stroke-width="1.15" stroke-linecap="round"/><path d="M-6.5,-1.8 L-5.9,-2.3 L-5.3,-2.3 L-4.7,-1.9 L-4.1,-1.3 L-3.5,-0.7 L-3.0,-0.4 L-2.4,-0.5 L-1.8,-1.0 L-1.2,-1.6 L-0.6,-2.2 L0.0,-2.3 L0.6,-2.1 L1.2,-1.5 L1.8,-0.8 L2.4,-0.4 L3.0,-0.4 L3.5,-0.8 L4.1,-1.4 L4.7,-2.0 L5.3,-2.3 L5.9,-2.2 L6.5,-1.7" fill="none" stroke="#539fb6" stroke-width="1.15" stroke-linecap="round"/><path d="M-6.5,0.9 L-5.9,0.4 L-5.3,0.4 L-4.7,0.8 L-4.1,1.4 L-3.5,2.0 L-3.0,2.3 L-2.4,2.2 L-1.8,1.7 L-1.2,1.1 L-0.6,0.5 L0.0,0.4 L0.6,0.6 L1.2,1.2 L1.8,1.9 L2.4,2.3 L3.0,2.3 L3.5,1.9 L4.1,1.3 L4.7,0.7 L5.3,0.4 L5.9,0.5 L6.5,1.0" fill="none" stroke="#539fb6" stroke-width="1.15" stroke-linecap="round"/><path d="M-6.5,3.6 L-5.9,3.1 L-5.3,3.1 L-4.7,3.5 L-4.1,4.1 L-3.5,4.7 L-3.0,5.0 L-2.4,4.9 L-1.8,4.4 L-1.2,3.8 L-0.6,3.2 L0.0,3.1 L0.6,3.3 L1.2,3.9 L1.8,4.6 L2.4,5.0 L3.0,5.0 L3.5,4.6 L4.1,4.0 L4.7,3.4 L5.3,3.1 L5.9,3.2 L6.5,3.7" fill="none" stroke="#539fb6" stroke-width="1.15" stroke-linecap="round"/></g>
<path d="M405.0,133.7 L405.6,134.3 L406.2,134.9 L406.8,135.2 L407.4,135.0 L408.0,134.5 L408.6,133.9 L409.2,133.5 L409.8,133.4 L410.5,133.7 L411.1,134.3 L411.7,134.9 L412.3,135.2 L412.9,135.0 L413.5,134.6 L414.1,134.0 L414.7,133.5 L415.3,133.4 L415.9,133.7 L416.5,134.3 L417.1,134.9 L417.8,135.2 L418.4,135.1 L419.0,134.6" fill="none" stroke="#cf78bb" stroke-width="1.05" stroke-linecap="round"/><path d="M405.0,136.4 L405.6,137.0 L406.2,137.6 L406.8,137.9 L407.4,137.7 L408.0,137.2 L408.6,136.6 L409.2,136.2 L409.8,136.1 L410.5,136.4 L411.1,137.0 L411.7,137.6 L412.3,137.9 L412.9,137.7 L413.5,137.3 L414.1,136.7 L414.7,136.2 L415.3,136.1 L415.9,136.4 L416.5,137.0 L417.1,137.6 L417.8,137.9 L418.4,137.8 L419.0,137.3" fill="none" stroke="#cf78bb" stroke-width="1.05" stroke-linecap="round"/><path d="M405.0,139.1 L405.6,139.7 L406.2,140.3 L406.8,140.6 L407.4,140.4 L408.0,139.9 L408.6,139.3 L409.2,138.9 L409.8,138.8 L410.5,139.1 L411.1,139.7 L411.7,140.3 L412.3,140.6 L412.9,140.4 L413.5,140.0 L414.1,139.4 L414.7,138.9 L415.3,138.8 L415.9,139.1 L416.5,139.7 L417.1,140.3 L417.8,140.6 L418.4,140.5 L419.0,140.0" fill="none" stroke="#cf78bb" stroke-width="1.05" stroke-linecap="round"/>
<g transform="translate(405.5,148.1) rotate(38)"><path d="M-6.5,-4.5 L-5.9,-5.0 L-5.3,-5.0 L-4.7,-4.6 L-4.1,-4.0 L-3.5,-3.4 L-3.0,-3.1 L-2.4,-3.2 L-1.8,-3.7 L-1.2,-4.3 L-0.6,-4.9 L0.0,-5.0 L0.6,-4.8 L1.2,-4.2 L1.8,-3.5 L2.4,-3.1 L3.0,-3.1 L3.5,-3.5 L4.1,-4.1 L4.7,-4.7 L5.3,-5.0 L5.9,-4.9 L6.5,-4.4" fill="none" stroke="#539fb6" stroke-width="1.15" stroke-linecap="round"/><path d="M-6.5,-1.8 L-5.9,-2.3 L-5.3,-2.3 L-4.7,-1.9 L-4.1,-1.3 L-3.5,-0.7 L-3.0,-0.4 L-2.4,-0.5 L-1.8,-1.0 L-1.2,-1.6 L-0.6,-2.2 L0.0,-2.3 L0.6,-2.1 L1.2,-1.5 L1.8,-0.8 L2.4,-0.4 L3.0,-0.4 L3.5,-0.8 L4.1,-1.4 L4.7,-2.0 L5.3,-2.3 L5.9,-2.2 L6.5,-1.7" fill="none" stroke="#539fb6" stroke-width="1.15" stroke-linecap="round"/><path d="M-6.5,0.9 L-5.9,0.4 L-5.3,0.4 L-4.7,0.8 L-4.1,1.4 L-3.5,2.0 L-3.0,2.3 L-2.4,2.2 L-1.8,1.7 L-1.2,1.1 L-0.6,0.5 L0.0,0.4 L0.6,0.6 L1.2,1.2 L1.8,1.9 L2.4,2.3 L3.0,2.3 L3.5,1.9 L4.1,1.3 L4.7,0.7 L5.3,0.4 L5.9,0.5 L6.5,1.0" fill="none" stroke="#539fb6" stroke-width="1.15" stroke-linecap="round"/><path d="M-6.5,3.6 L-5.9,3.1 L-5.3,3.1 L-4.7,3.5 L-4.1,4.1 L-3.5,4.7 L-3.0,5.0 L-2.4,4.9 L-1.8,4.4 L-1.2,3.8 L-0.6,3.2 L0.0,3.1 L0.6,3.3 L1.2,3.9 L1.8,4.6 L2.4,5.0 L3.0,5.0 L3.5,4.6 L4.1,4.0 L4.7,3.4 L5.3,3.1 L5.9,3.2 L6.5,3.7" fill="none" stroke="#539fb6" stroke-width="1.15" stroke-linecap="round"/></g>
<g transform="translate(420.8,148.1) rotate(-58)"><path d="M-6.5,-4.5 L-5.9,-5.0 L-5.3,-5.0 L-4.7,-4.6 L-4.1,-4.0 L-3.5,-3.4 L-3.0,-3.1 L-2.4,-3.2 L-1.8,-3.7 L-1.2,-4.3 L-0.6,-4.9 L0.0,-5.0 L0.6,-4.8 L1.2,-4.2 L1.8,-3.5 L2.4,-3.1 L3.0,-3.1 L3.5,-3.5 L4.1,-4.1 L4.7,-4.7 L5.3,-5.0 L5.9,-4.9 L6.5,-4.4" fill="none" stroke="#539fb6" stroke-width="1.15" stroke-linecap="round"/><path d="M-6.5,-1.8 L-5.9,-2.3 L-5.3,-2.3 L-4.7,-1.9 L-4.1,-1.3 L-3.5,-0.7 L-3.0,-0.4 L-2.4,-0.5 L-1.8,-1.0 L-1.2,-1.6 L-0.6,-2.2 L0.0,-2.3 L0.6,-2.1 L1.2,-1.5 L1.8,-0.8 L2.4,-0.4 L3.0,-0.4 L3.5,-0.8 L4.1,-1.4 L4.7,-2.0 L5.3,-2.3 L5.9,-2.2 L6.5,-1.7" fill="none" stroke="#539fb6" stroke-width="1.15" stroke-linecap="round"/><path d="M-6.5,0.9 L-5.9,0.4 L-5.3,0.4 L-4.7,0.8 L-4.1,1.4 L-3.5,2.0 L-3.0,2.3 L-2.4,2.2 L-1.8,1.7 L-1.2,1.1 L-0.6,0.5 L0.0,0.4 L0.6,0.6 L1.2,1.2 L1.8,1.9 L2.4,2.3 L3.0,2.3 L3.5,1.9 L4.1,1.3 L4.7,0.7 L5.3,0.4 L5.9,0.5 L6.5,1.0" fill="none" stroke="#539fb6" stroke-width="1.15" stroke-linecap="round"/><path d="M-6.5,3.6 L-5.9,3.1 L-5.3,3.1 L-4.7,3.5 L-4.1,4.1 L-3.5,4.7 L-3.0,5.0 L-2.4,4.9 L-1.8,4.4 L-1.2,3.8 L-0.6,3.2 L0.0,3.1 L0.6,3.3 L1.2,3.9 L1.8,4.6 L2.4,5.0 L3.0,5.0 L3.5,4.6 L4.1,4.0 L4.7,3.4 L5.3,3.1 L5.9,3.2 L6.5,3.7" fill="none" stroke="#539fb6" stroke-width="1.15" stroke-linecap="round"/></g>
<path d="M430.5,165.1 L431.1,165.7 L431.7,166.2 L432.3,166.5 L432.9,166.4 L433.5,165.9 L434.2,165.3 L434.8,164.8 L435.4,164.7 L436.0,165.1 L436.6,165.6 L437.2,166.2 L437.8,166.5 L438.4,166.4 L439.0,165.9 L439.6,165.3 L440.2,164.8 L440.8,164.7 L441.5,165.0 L442.1,165.6 L442.7,166.2 L443.3,166.5 L443.9,166.4 L444.5,165.9" fill="none" stroke="#cf78bb" stroke-width="1.05" stroke-linecap="round"/><path d="M430.5,167.8 L431.1,168.4 L431.7,168.9 L432.3,169.2 L432.9,169.1 L433.5,168.6 L434.2,168.0 L434.8,167.5 L435.4,167.4 L436.0,167.8 L436.6,168.3 L437.2,168.9 L437.8,169.2 L438.4,169.1 L439.0,168.6 L439.6,168.0 L440.2,167.5 L440.8,167.4 L441.5,167.7 L442.1,168.3 L442.7,168.9 L443.3,169.2 L443.9,169.1 L444.5,168.6" fill="none" stroke="#cf78bb" stroke-width="1.05" stroke-linecap="round"/><path d="M430.5,170.5 L431.1,171.1 L431.7,171.6 L432.3,171.9 L432.9,171.8 L433.5,171.3 L434.2,170.7 L434.8,170.2 L435.4,170.1 L436.0,170.5 L436.6,171.0 L437.2,171.6 L437.8,171.9 L438.4,171.8 L439.0,171.3 L439.6,170.7 L440.2,170.2 L440.8,170.1 L441.5,170.4 L442.1,171.0 L442.7,171.6 L443.3,171.9 L443.9,171.8 L444.5,171.3" fill="none" stroke="#cf78bb" stroke-width="1.05" stroke-linecap="round"/>
<g transform="translate(430.1,180.6) rotate(38)"><path d="M-6.5,-4.5 L-5.9,-5.0 L-5.3,-5.0 L-4.7,-4.6 L-4.1,-4.0 L-3.5,-3.4 L-3.0,-3.1 L-2.4,-3.2 L-1.8,-3.7 L-1.2,-4.3 L-0.6,-4.9 L0.0,-5.0 L0.6,-4.8 L1.2,-4.2 L1.8,-3.5 L2.4,-3.1 L3.0,-3.1 L3.5,-3.5 L4.1,-4.1 L4.7,-4.7 L5.3,-5.0 L5.9,-4.9 L6.5,-4.4" fill="none" stroke="#539fb6" stroke-width="1.15" stroke-linecap="round"/><path d="M-6.5,-1.8 L-5.9,-2.3 L-5.3,-2.3 L-4.7,-1.9 L-4.1,-1.3 L-3.5,-0.7 L-3.0,-0.4 L-2.4,-0.5 L-1.8,-1.0 L-1.2,-1.6 L-0.6,-2.2 L0.0,-2.3 L0.6,-2.1 L1.2,-1.5 L1.8,-0.8 L2.4,-0.4 L3.0,-0.4 L3.5,-0.8 L4.1,-1.4 L4.7,-2.0 L5.3,-2.3 L5.9,-2.2 L6.5,-1.7" fill="none" stroke="#539fb6" stroke-width="1.15" stroke-linecap="round"/><path d="M-6.5,0.9 L-5.9,0.4 L-5.3,0.4 L-4.7,0.8 L-4.1,1.4 L-3.5,2.0 L-3.0,2.3 L-2.4,2.2 L-1.8,1.7 L-1.2,1.1 L-0.6,0.5 L0.0,0.4 L0.6,0.6 L1.2,1.2 L1.8,1.9 L2.4,2.3 L3.0,2.3 L3.5,1.9 L4.1,1.3 L4.7,0.7 L5.3,0.4 L5.9,0.5 L6.5,1.0" fill="none" stroke="#539fb6" stroke-width="1.15" stroke-linecap="round"/><path d="M-6.5,3.6 L-5.9,3.1 L-5.3,3.1 L-4.7,3.5 L-4.1,4.1 L-3.5,4.7 L-3.0,5.0 L-2.4,4.9 L-1.8,4.4 L-1.2,3.8 L-0.6,3.2 L0.0,3.1 L0.6,3.3 L1.2,3.9 L1.8,4.6 L2.4,5.0 L3.0,5.0 L3.5,4.6 L4.1,4.0 L4.7,3.4 L5.3,3.1 L5.9,3.2 L6.5,3.7" fill="none" stroke="#539fb6" stroke-width="1.15" stroke-linecap="round"/></g>
<g transform="translate(446.3,180.6) rotate(-58)"><path d="M-6.5,-4.5 L-5.9,-5.0 L-5.3,-5.0 L-4.7,-4.6 L-4.1,-4.0 L-3.5,-3.4 L-3.0,-3.1 L-2.4,-3.2 L-1.8,-3.7 L-1.2,-4.3 L-0.6,-4.9 L0.0,-5.0 L0.6,-4.8 L1.2,-4.2 L1.8,-3.5 L2.4,-3.1 L3.0,-3.1 L3.5,-3.5 L4.1,-4.1 L4.7,-4.7 L5.3,-5.0 L5.9,-4.9 L6.5,-4.4" fill="none" stroke="#539fb6" stroke-width="1.15" stroke-linecap="round"/><path d="M-6.5,-1.8 L-5.9,-2.3 L-5.3,-2.3 L-4.7,-1.9 L-4.1,-1.3 L-3.5,-0.7 L-3.0,-0.4 L-2.4,-0.5 L-1.8,-1.0 L-1.2,-1.6 L-0.6,-2.2 L0.0,-2.3 L0.6,-2.1 L1.2,-1.5 L1.8,-0.8 L2.4,-0.4 L3.0,-0.4 L3.5,-0.8 L4.1,-1.4 L4.7,-2.0 L5.3,-2.3 L5.9,-2.2 L6.5,-1.7" fill="none" stroke="#539fb6" stroke-width="1.15" stroke-linecap="round"/><path d="M-6.5,0.9 L-5.9,0.4 L-5.3,0.4 L-4.7,0.8 L-4.1,1.4 L-3.5,2.0 L-3.0,2.3 L-2.4,2.2 L-1.8,1.7 L-1.2,1.1 L-0.6,0.5 L0.0,0.4 L0.6,0.6 L1.2,1.2 L1.8,1.9 L2.4,2.3 L3.0,2.3 L3.5,1.9 L4.1,1.3 L4.7,0.7 L5.3,0.4 L5.9,0.5 L6.5,1.0" fill="none" stroke="#539fb6" stroke-width="1.15" stroke-linecap="round"/><path d="M-6.5,3.6 L-5.9,3.1 L-5.3,3.1 L-4.7,3.5 L-4.1,4.1 L-3.5,4.7 L-3.0,5.0 L-2.4,4.9 L-1.8,4.4 L-1.2,3.8 L-0.6,3.2 L0.0,3.1 L0.6,3.3 L1.2,3.9 L1.8,4.6 L2.4,5.0 L3.0,5.0 L3.5,4.6 L4.1,4.0 L4.7,3.4 L5.3,3.1 L5.9,3.2 L6.5,3.7" fill="none" stroke="#539fb6" stroke-width="1.15" stroke-linecap="round"/></g>
<use href="#ves" x="625.5" y="116.5"/>
<use href="#ves" x="674.2" y="108"/>
<use href="#ves" x="651.1" y="143"/>
<use href="#ves" x="699.5" y="133.8"/>
<use href="#ves" x="737.7" y="133.5"/>
<use href="#ves" x="699.5" y="170.8"/>
<text x="101.41" y="63.3" font-size="21.5" font-weight="bold" textLength="128.36" lengthAdjust="spacingAndGlyphs">Living MSCs</text>
<text x="343.27" y="61.4" font-size="21.5" font-weight="bold" textLength="163.82" lengthAdjust="spacingAndGlyphs">Apoptotic MSCs</text>
<text x="595.22" y="61.9" font-size="21.5" font-weight="bold" textLength="169.79" lengthAdjust="spacingAndGlyphs">Releasing apoVs</text>
<line x1="271.0" y1="138.9" x2="324.2" y2="138.9" stroke="#000" stroke-width="2.2"/><polygon points="332.2,138.9 323.7,143.2 323.7,134.7" fill="#000"/>
<line x1="511.9" y1="138.9" x2="564.9" y2="138.9" stroke="#000" stroke-width="2.2"/><polygon points="572.9,138.9 564.4,143.2 564.4,134.7" fill="#000"/>
<text x="195.2" y="223" font-size="18.1" textLength="212.4" lengthAdjust="spacingAndGlyphs">Synthesize <tspan font-style="italic">de novo</tspan> RNAs</text>
<text x="202.01" y="244.2" font-size="18.1" font-weight="normal" textLength="198.19" lengthAdjust="spacingAndGlyphs">unique from living MSCs</text>
<text x="597.3" y="223" font-size="18.2" textLength="162.5" lengthAdjust="spacingAndGlyphs">ApoVs with <tspan font-style="italic">de novo</tspan></text>
<text x="599.53" y="245.1" font-size="18.2" font-weight="normal" textLength="155.52" lengthAdjust="spacingAndGlyphs">L2a and L2b RNAs</text>
<path d="M20.5,258.5 L21.2,259.1 L21.9,259.7 L22.6,260.3 L23.3,260.8 L24.0,261.2 L24.7,261.4 L25.4,261.4 L26.1,261.1 L26.8,260.7 L27.5,260.2 L28.2,259.6 L28.9,259.0 L29.6,258.4 L30.3,258.0 L31.0,257.7 L31.7,257.6 L32.4,257.7 L33.1,258.0 L33.8,258.5 L34.5,259.1 L35.2,259.7 L35.9,260.3 L36.6,260.8 L37.3,261.2 L38.0,261.4 L38.7,261.4 L39.4,261.1 L40.1,260.7 L40.8,260.2 L41.5,259.6 L42.2,259.0 L42.9,258.4 L43.6,258.0 L44.3,257.7 L45.0,257.6 L45.7,257.7 L46.4,258.0 L47.1,258.5 L47.8,259.1 L48.5,259.7 L49.2,260.3 L49.9,260.8 L50.6,261.2 L51.3,261.4 L52.0,261.4 L52.7,261.1 L53.4,260.7" fill="none" stroke="#32a08c" stroke-width="1.8" stroke-linecap="round"/>
<path d="M155.7,258.5 L156.4,259.1 L157.1,259.7 L157.8,260.3 L158.5,260.8 L159.2,261.2 L159.9,261.4 L160.6,261.4 L161.3,261.2 L162.0,260.8 L162.7,260.3 L163.4,259.7 L164.1,259.1 L164.8,258.5 L165.5,258.0 L166.2,257.7 L166.9,257.6 L167.6,257.7 L168.3,257.9 L169.0,258.4 L169.7,258.9 L170.4,259.5 L171.1,260.1 L171.8,260.7 L172.5,261.1 L173.2,261.3 L173.9,261.4 L174.6,261.2 L175.3,260.9 L176.0,260.4 L176.7,259.9 L177.4,259.2 L178.1,258.7 L178.8,258.2 L179.5,257.8 L180.2,257.6 L180.9,257.6 L181.6,257.8 L182.3,258.2 L183.0,258.8 L183.7,259.4 L184.4,260.0 L185.1,260.5 L185.8,261.0 L186.5,261.3 L187.2,261.4 L187.9,261.3 L188.6,261.0 L189.3,260.6" fill="none" stroke="#c075a5" stroke-width="1.8" stroke-linecap="round"/>
<path d="M20.5,265.3 L21.2,265.9 L21.9,266.5 L22.6,267.1 L23.3,267.6 L24.0,268.0 L24.7,268.2 L25.4,268.2 L26.1,267.9 L26.8,267.5 L27.5,267.0 L28.2,266.4 L28.9,265.8 L29.6,265.2 L30.3,264.8 L31.0,264.5 L31.7,264.4 L32.4,264.5 L33.1,264.8 L33.8,265.3 L34.5,265.9 L35.2,266.5 L35.9,267.1 L36.6,267.6 L37.3,268.0 L38.0,268.2 L38.7,268.2 L39.4,267.9 L40.1,267.5 L40.8,267.0 L41.5,266.4 L42.2,265.8 L42.9,265.2 L43.6,264.8 L44.3,264.5 L45.0,264.4 L45.7,264.5 L46.4,264.8 L47.1,265.3 L47.8,265.9 L48.5,266.5 L49.2,267.1 L49.9,267.6 L50.6,268.0 L51.3,268.2 L52.0,268.2 L52.7,267.9 L53.4,267.5" fill="none" stroke="#32a08c" stroke-width="1.8" stroke-linecap="round"/>
<path d="M155.7,265.3 L156.4,265.9 L157.1,266.5 L157.8,267.1 L158.5,267.6 L159.2,268.0 L159.9,268.2 L160.6,268.2 L161.3,268.0 L162.0,267.6 L162.7,267.1 L163.4,266.5 L164.1,265.9 L164.8,265.3 L165.5,264.8 L166.2,264.5 L166.9,264.4 L167.6,264.5 L168.3,264.7 L169.0,265.2 L169.7,265.7 L170.4,266.3 L171.1,266.9 L171.8,267.5 L172.5,267.9 L173.2,268.1 L173.9,268.2 L174.6,268.0 L175.3,267.7 L176.0,267.2 L176.7,266.7 L177.4,266.0 L178.1,265.5 L178.8,265.0 L179.5,264.6 L180.2,264.4 L180.9,264.4 L181.6,264.6 L182.3,265.0 L183.0,265.6 L183.7,266.2 L184.4,266.8 L185.1,267.3 L185.8,267.8 L186.5,268.1 L187.2,268.2 L187.9,268.1 L188.6,267.8 L189.3,267.4" fill="none" stroke="#c075a5" stroke-width="1.8" stroke-linecap="round"/>
<path d="M20.5,272.1 L21.2,272.7 L21.9,273.3 L22.6,273.9 L23.3,274.4 L24.0,274.8 L24.7,275.0 L25.4,275.0 L26.1,274.7 L26.8,274.3 L27.5,273.8 L28.2,273.2 L28.9,272.6 L29.6,272.0 L30.3,271.6 L31.0,271.3 L31.7,271.2 L32.4,271.3 L33.1,271.6 L33.8,272.1 L34.5,272.7 L35.2,273.3 L35.9,273.9 L36.6,274.4 L37.3,274.8 L38.0,275.0 L38.7,275.0 L39.4,274.7 L40.1,274.3 L40.8,273.8 L41.5,273.2 L42.2,272.6 L42.9,272.0 L43.6,271.6 L44.3,271.3 L45.0,271.2 L45.7,271.3 L46.4,271.6 L47.1,272.1 L47.8,272.7 L48.5,273.3 L49.2,273.9 L49.9,274.4 L50.6,274.8 L51.3,275.0 L52.0,275.0 L52.7,274.7 L53.4,274.3" fill="none" stroke="#32a08c" stroke-width="1.8" stroke-linecap="round"/>
<path d="M155.7,272.1 L156.4,272.7 L157.1,273.3 L157.8,273.9 L158.5,274.4 L159.2,274.8 L159.9,275.0 L160.6,275.0 L161.3,274.8 L162.0,274.4 L162.7,273.9 L163.4,273.3 L164.1,272.7 L164.8,272.1 L165.5,271.6 L166.2,271.3 L166.9,271.2 L167.6,271.3 L168.3,271.5 L169.0,272.0 L169.7,272.5 L170.4,273.1 L171.1,273.7 L171.8,274.3 L172.5,274.7 L173.2,274.9 L173.9,275.0 L174.6,274.8 L175.3,274.5 L176.0,274.0 L176.7,273.5 L177.4,272.8 L178.1,272.3 L178.8,271.8 L179.5,271.4 L180.2,271.2 L180.9,271.2 L181.6,271.4 L182.3,271.8 L183.0,272.4 L183.7,273.0 L184.4,273.6 L185.1,274.1 L185.8,274.6 L186.5,274.9 L187.2,275.0 L187.9,274.9 L188.6,274.6 L189.3,274.2" fill="none" stroke="#c075a5" stroke-width="1.8" stroke-linecap="round"/>
<text x="58.00" y="271.1" font-size="16.7" font-weight="normal" textLength="89.51" lengthAdjust="spacingAndGlyphs">steady RNA</text>
<text x="192.8" y="271.3" font-size="16.7" textLength="100.6" lengthAdjust="spacingAndGlyphs"><tspan font-style="italic">de novo</tspan> RNA</text>
<rect x="42.3" y="339.5" width="179.3" height="40.3" rx="7" ry="7" fill="#eef2fb" stroke="#98a7d1" stroke-width="2.3"/>
<text x="64.52" y="367.9" font-size="20.8" font-weight="normal" textLength="132.02" lengthAdjust="spacingAndGlyphs">Cl-Caspase-3</text>
<line x1="142.3" y1="393.6" x2="142.3" y2="434.6" stroke="#000" stroke-width="2.2"/><polygon points="142.3,442.6 138.1,434.1 146.6,434.1" fill="#000"/>
<rect x="99.2" y="461.3" width="67.5" height="35.2" rx="17" ry="17" fill="#eaf0fb" stroke="#8fa1cd" stroke-width="2.6"/>
<clipPath id="cpU"><path d="M158.9,458.0 C159.0,456.7 158.9,454.2 159.8,452.4 C160.6,450.5 162.0,448.5 164.0,446.8 C165.9,445.1 168.6,443.3 171.4,442.1 C174.2,440.9 177.7,440.0 180.8,439.5 C183.9,439.0 187.0,438.8 190.1,439.0 C193.2,439.1 196.6,439.6 199.4,440.3 C202.2,440.9 204.7,441.9 206.9,443.1 C209.1,444.2 210.8,445.7 212.5,447.2 C214.2,448.8 215.9,450.6 217.1,452.4 C218.3,454.1 219.5,456.5 219.7,457.8 C220.0,459.1 220.3,459.5 218.8,460.0 C217.3,460.5 213.4,460.5 210.6,460.9 C207.8,461.2 205.0,462.0 202.2,462.3 C199.4,462.6 196.0,462.9 193.8,462.7 C191.6,462.5 191.0,461.1 189.2,461.0 C187.3,461.0 185.3,462.0 182.6,462.3 C180.0,462.5 176.4,462.8 173.3,462.7 C170.2,462.6 166.3,462.2 164.0,461.8 C161.6,461.4 160.0,460.9 159.1,460.3 C158.3,459.7 158.7,459.3 158.9,458.0Z"/></clipPath><clipPath id="cpL"><path d="M161.2,464.1 C162.5,463.3 165.9,463.7 168.6,463.7 C171.4,463.7 175.2,463.7 178.0,464.1 C180.8,464.5 183.3,465.4 185.4,466.0 C187.6,466.6 189.6,467.9 191.0,467.8 C192.5,467.6 192.1,465.7 194.0,465.1 C195.9,464.4 199.4,464.2 202.2,463.7 C205.0,463.1 208.4,462.0 210.6,461.8 C212.9,461.6 214.7,461.3 215.7,462.3 C216.8,463.2 217.0,465.2 217.0,467.3 C217.1,469.4 217.1,472.4 215.8,474.8 C214.6,477.1 212.6,479.4 209.7,481.3 C206.8,483.1 202.2,484.9 198.5,485.9 C194.8,487.0 190.9,487.6 187.3,487.6 C183.7,487.6 180.1,487.0 177.0,485.9 C173.9,484.9 171.0,483.1 168.6,481.3 C166.3,479.4 164.3,476.9 163.1,474.8 C161.8,472.6 161.3,470.2 161.0,468.4 C160.7,466.6 159.9,464.9 161.2,464.1Z"/></clipPath>
<g opacity="0.93"><g clip-path="url(#cpU)"><path d="M158.9,458.0 C159.0,456.7 158.9,454.2 159.8,452.4 C160.6,450.5 162.0,448.5 164.0,446.8 C165.9,445.1 168.6,443.3 171.4,442.1 C174.2,440.9 177.7,440.0 180.8,439.5 C183.9,439.0 187.0,438.8 190.1,439.0 C193.2,439.1 196.6,439.6 199.4,440.3 C202.2,440.9 204.7,441.9 206.9,443.1 C209.1,444.2 210.8,445.7 212.5,447.2 C214.2,448.8 215.9,450.6 217.1,452.4 C218.3,454.1 219.5,456.5 219.7,457.8 C220.0,459.1 220.3,459.5 218.8,460.0 C217.3,460.5 213.4,460.5 210.6,460.9 C207.8,461.2 205.0,462.0 202.2,462.3 C199.4,462.6 196.0,462.9 193.8,462.7 C191.6,462.5 191.0,461.1 189.2,461.0 C187.3,461.0 185.3,462.0 182.6,462.3 C180.0,462.5 176.4,462.8 173.3,462.7 C170.2,462.6 166.3,462.2 164.0,461.8 C161.6,461.4 160.0,460.9 159.1,460.3 C158.3,459.7 158.7,459.3 158.9,458.0Z" fill="#93b7e6"/><path d="M158.9,458.0 C159.0,456.7 158.9,454.2 159.8,452.4 C160.6,450.5 162.0,448.5 164.0,446.8 C165.9,445.1 168.6,443.3 171.4,442.1 C174.2,440.9 177.7,440.0 180.8,439.5 C183.9,439.0 187.0,438.8 190.1,439.0 C193.2,439.1 196.6,439.6 199.4,440.3 C202.2,440.9 204.7,441.9 206.9,443.1 C209.1,444.2 210.8,445.7 212.5,447.2 C214.2,448.8 215.9,450.6 217.1,452.4 C218.3,454.1 219.5,456.5 219.7,457.8 C220.0,459.1 220.3,459.5 218.8,460.0 C217.3,460.5 213.4,460.5 210.6,460.9 C207.8,461.2 205.0,462.0 202.2,462.3 C199.4,462.6 196.0,462.9 193.8,462.7 C191.6,462.5 191.0,461.1 189.2,461.0 C187.3,461.0 185.3,462.0 182.6,462.3 C180.0,462.5 176.4,462.8 173.3,462.7 C170.2,462.6 166.3,462.2 164.0,461.8 C161.6,461.4 160.0,460.9 159.1,460.3 C158.3,459.7 158.7,459.3 158.9,458.0Z" transform="translate(0,-1.7)" fill="#b9d2f1"/></g>
<g clip-path="url(#cpL)"><path d="M161.2,464.1 C162.5,463.3 165.9,463.7 168.6,463.7 C171.4,463.7 175.2,463.7 178.0,464.1 C180.8,464.5 183.3,465.4 185.4,466.0 C187.6,466.6 189.6,467.9 191.0,467.8 C192.5,467.6 192.1,465.7 194.0,465.1 C195.9,464.4 199.4,464.2 202.2,463.7 C205.0,463.1 208.4,462.0 210.6,461.8 C212.9,461.6 214.7,461.3 215.7,462.3 C216.8,463.2 217.0,465.2 217.0,467.3 C217.1,469.4 217.1,472.4 215.8,474.8 C214.6,477.1 212.6,479.4 209.7,481.3 C206.8,483.1 202.2,484.9 198.5,485.9 C194.8,487.0 190.9,487.6 187.3,487.6 C183.7,487.6 180.1,487.0 177.0,485.9 C173.9,484.9 171.0,483.1 168.6,481.3 C166.3,479.4 164.3,476.9 163.1,474.8 C161.8,472.6 161.3,470.2 161.0,468.4 C160.7,466.6 159.9,464.9 161.2,464.1Z" fill="#86aee1"/><path d="M161.2,464.1 C162.5,463.3 165.9,463.7 168.6,463.7 C171.4,463.7 175.2,463.7 178.0,464.1 C180.8,464.5 183.3,465.4 185.4,466.0 C187.6,466.6 189.6,467.9 191.0,467.8 C192.5,467.6 192.1,465.7 194.0,465.1 C195.9,464.4 199.4,464.2 202.2,463.7 C205.0,463.1 208.4,462.0 210.6,461.8 C212.9,461.6 214.7,461.3 215.7,462.3 C216.8,463.2 217.0,465.2 217.0,467.3 C217.1,469.4 217.1,472.4 215.8,474.8 C214.6,477.1 212.6,479.4 209.7,481.3 C206.8,483.1 202.2,484.9 198.5,485.9 C194.8,487.0 190.9,487.6 187.3,487.6 C183.7,487.6 180.1,487.0 177.0,485.9 C173.9,484.9 171.0,483.1 168.6,481.3 C166.3,479.4 164.3,476.9 163.1,474.8 C161.8,472.6 161.3,470.2 161.0,468.4 C160.7,466.6 159.9,464.9 161.2,464.1Z" transform="translate(0,-2)" fill="#b4cff0"/></g>
<path d="M158.9,458.0 C159.0,456.7 158.9,454.2 159.8,452.4 C160.6,450.5 162.0,448.5 164.0,446.8 C165.9,445.1 168.6,443.3 171.4,442.1 C174.2,440.9 177.7,440.0 180.8,439.5 C183.9,439.0 187.0,438.8 190.1,439.0 C193.2,439.1 196.6,439.6 199.4,440.3 C202.2,440.9 204.7,441.9 206.9,443.1 C209.1,444.2 210.8,445.7 212.5,447.2 C214.2,448.8 215.9,450.6 217.1,452.4 C218.3,454.1 219.5,456.5 219.7,457.8 C220.0,459.1 220.3,459.5 218.8,460.0 C217.3,460.5 213.4,460.5 210.6,460.9 C207.8,461.2 205.0,462.0 202.2,462.3 C199.4,462.6 196.0,462.9 193.8,462.7 C191.6,462.5 191.0,461.1 189.2,461.0 C187.3,461.0 185.3,462.0 182.6,462.3 C180.0,462.5 176.4,462.8 173.3,462.7 C170.2,462.6 166.3,462.2 164.0,461.8 C161.6,461.4 160.0,460.9 159.1,460.3 C158.3,459.7 158.7,459.3 158.9,458.0Z" fill="none" stroke="#9dbde8" stroke-width="0.7"/><path d="M161.2,464.1 C162.5,463.3 165.9,463.7 168.6,463.7 C171.4,463.7 175.2,463.7 178.0,464.1 C180.8,464.5 183.3,465.4 185.4,466.0 C187.6,466.6 189.6,467.9 191.0,467.8 C192.5,467.6 192.1,465.7 194.0,465.1 C195.9,464.4 199.4,464.2 202.2,463.7 C205.0,463.1 208.4,462.0 210.6,461.8 C212.9,461.6 214.7,461.3 215.7,462.3 C216.8,463.2 217.0,465.2 217.0,467.3 C217.1,469.4 217.1,472.4 215.8,474.8 C214.6,477.1 212.6,479.4 209.7,481.3 C206.8,483.1 202.2,484.9 198.5,485.9 C194.8,487.0 190.9,487.6 187.3,487.6 C183.7,487.6 180.1,487.0 177.0,485.9 C173.9,484.9 171.0,483.1 168.6,481.3 C166.3,479.4 164.3,476.9 163.1,474.8 C161.8,472.6 161.3,470.2 161.0,468.4 C160.7,466.6 159.9,464.9 161.2,464.1Z" fill="none" stroke="#93b6e5" stroke-width="0.7"/></g>
<path d="M81.4,493.0" fill="none"/>
<path d="M81.4,493.0 L82.2,493.4 L83.0,493.9 L83.8,494.6 L84.6,495.4 L85.4,496.4 L86.2,497.4 L87.0,498.4 L87.8,499.5 L88.6,500.5 L89.4,501.4 L90.3,502.1 L91.1,502.8 L91.9,503.2 L92.7,503.5 L93.5,503.6 L94.3,503.5 L95.1,503.2 L95.9,502.7 L96.7,502.0 L97.5,501.2 L98.3,500.3 L99.1,499.3 L99.9,498.3 L100.7,497.2 L101.5,496.2 L102.3,495.3 L103.1,494.5 L103.9,493.8 L104.7,493.3 L105.5,492.9 L106.3,492.8 L107.2,492.9 L108.0,493.1 L108.8,493.6 L109.6,494.2 L110.4,495.0 L111.2,495.9 L112.0,496.8 L112.8,497.9 L113.6,498.9 L114.4,499.9 L115.2,500.9 L116.0,501.7 L116.8,502.4 L117.6,503.0 L118.4,503.4 L119.2,503.6 L120.0,503.6 L120.8,503.4 L121.6,503.0 L122.4,502.4 L123.2,501.7 L124.1,500.8 L124.9,499.8 L125.7,498.8 L126.5,497.8 L127.3,496.8 L128.1,495.8 L128.9,494.9 L129.7,494.2 L130.5,493.5 L131.3,493.1 L132.1,492.9 L132.9,492.8 L133.7,493.0 L134.5,493.3 L135.3,493.8 L136.1,494.5 L136.9,495.3 L137.7,496.3 L138.5,497.3 L139.3,498.3 L140.1,499.4 L141.0,500.3 L141.8,501.3 L142.6,502.1 L143.4,502.7 L144.2,503.2 L145.0,503.5 L145.8,503.6 L146.6,503.5 L147.4,503.2 L148.2,502.7 L149.0,502.1" fill="none" stroke="#1d5a86" stroke-width="2.7" stroke-linecap="round" stroke-linejoin="round"/>
<path d="M80.8,502.1 L81.6,502.7 L82.4,503.2 L83.2,503.5 L84.0,503.6 L84.8,503.5 L85.6,503.2 L86.4,502.7 L87.2,502.1 L88.0,501.3 L88.8,500.4 L89.6,499.4 L90.4,498.3 L91.2,497.3 L92.0,496.3 L92.9,495.4 L93.7,494.5 L94.5,493.8 L95.3,493.3 L96.1,493.0 L96.9,492.8 L97.7,492.9 L98.5,493.1 L99.3,493.5 L100.1,494.1 L100.9,494.9 L101.7,495.8 L102.5,496.7 L103.3,497.7 L104.1,498.8 L104.9,499.8 L105.7,500.8 L106.5,501.6 L107.3,502.4 L108.1,502.9 L108.9,503.3 L109.7,503.6 L110.5,503.6 L111.3,503.4 L112.1,503.0 L112.9,502.5 L113.7,501.8 L114.5,500.9 L115.3,500.0 L116.2,499.0 L117.0,497.9 L117.8,496.9 L118.6,495.9 L119.4,495.0 L120.2,494.3 L121.0,493.6 L121.8,493.2 L122.6,492.9 L123.4,492.8 L124.2,492.9 L125.0,493.2 L125.8,493.7 L126.6,494.4 L127.4,495.2 L128.2,496.1 L129.0,497.1 L129.8,498.1 L130.6,499.2 L131.4,500.2 L132.2,501.1 L133.0,501.9 L133.8,502.6 L134.6,503.1 L135.4,503.5 L136.2,503.6 L137.0,503.5 L137.8,503.3 L138.6,502.8 L139.4,502.2 L140.3,501.5 L141.1,500.6 L141.9,499.6 L142.7,498.6 L143.5,497.5 L144.3,496.5 L145.1,495.6 L145.9,494.7 L146.7,494.0 L147.5,493.4 L148.3,493.0 L149.1,492.8 L149.9,492.8 L150.7,493.0 L151.5,493.4 " fill="none" stroke="#b3141d" stroke-width="2.7" stroke-linecap="round" stroke-linejoin="round"/>
<path d="M151.5,493.4 C152.2,493.8 154.4,494.2 156.0,496.0 C157.6,497.8 159.1,500.9 161.0,504.0 C162.9,507.1 165.0,511.7 167.5,514.5 C170.0,517.3 172.4,519.1 176.0,521.0 C179.6,522.9 184.2,524.5 189.0,525.6 C193.8,526.7 199.5,527.3 205.0,527.8 C210.5,528.3 216.2,528.5 222.0,528.5 C227.8,528.5 234.7,528.1 240.0,527.8 C245.3,527.5 249.5,527.3 254.0,526.5 C258.5,525.7 263.1,524.5 266.8,522.8 C270.5,521.1 273.4,518.7 276.1,516.3 C278.8,513.9 280.9,510.9 283.0,508.3 C285.1,505.7 287.6,501.8 288.5,500.5" fill="none" stroke="#b3141d" stroke-width="2.7" stroke-linecap="round" stroke-linejoin="round"/>
<path d="M289.5,500.6 L290.3,499.7 L291.1,498.6 L291.9,497.6 L292.7,496.6 L293.5,495.6 L294.3,494.8 L295.1,494.0 L295.9,493.4 L296.8,493.0 L297.6,492.8 L298.4,492.8 L299.2,493.0 L300.0,493.4 L300.8,494.0 L301.6,494.7 L302.4,495.5 L303.2,496.5 L304.0,497.5 L304.8,498.5 L305.6,499.6 L306.4,500.5 L307.2,501.4 L308.0,502.2 L308.8,502.8 L309.6,503.3 L310.4,503.5 L311.2,503.6 L312.1,503.5 L312.9,503.1 L313.7,502.6 L314.5,501.9 L315.3,501.1 L316.1,500.2 L316.9,499.2 L317.7,498.1 L318.5,497.1 L319.3,496.1 L320.1,495.2 L320.9,494.4 L321.7,493.7 L322.5,493.2 L323.3,492.9 L324.1,492.8 L324.9,492.9 L325.8,493.2 L326.6,493.6 L327.4,494.3 L328.2,495.1 L329.0,496.0 L329.8,497.0 L330.6,498.0 L331.4,499.0 L332.2,500.0 L333.0,501.0 L333.8,501.8 L334.6,502.5 L335.4,503.1 L336.2,503.4 L337.0,503.6 L337.8,503.6 L338.6,503.3 L339.4,502.9 L340.2,502.3 L341.1,501.6 L341.9,500.7 L342.7,499.7 L343.5,498.7 L344.3,497.6 L345.1,496.6 L345.9,495.7 L346.7,494.8 L347.5,494.1 L348.3,493.5 L349.1,493.1 L349.9,492.8 L350.7,492.8 L351.5,493.0 L352.3,493.4 L353.1,493.9 L353.9,494.6 L354.8,495.5 L355.6,496.4 L356.4,497.4 L357.2,498.5 L358.0,499.5 L358.8,500.5 L359.6,501.4 L360.4,502.2 L361.2,502.8 L362.0,503.3" fill="none" stroke="#b3141d" stroke-width="2.7" stroke-linecap="round" stroke-linejoin="round"/>
<path d="M291.0,500.9 L291.8,501.7 L292.6,502.4 L293.4,503.0 L294.2,503.4 L295.0,503.6 L295.8,503.6 L296.6,503.4 L297.5,503.0 L298.3,502.4 L299.1,501.6 L299.9,500.8 L300.7,499.8 L301.5,498.8 L302.3,497.8 L303.1,496.7 L303.9,495.8 L304.7,494.9 L305.5,494.1 L306.3,493.5 L307.1,493.1 L307.9,492.8 L308.8,492.8 L309.6,493.0 L310.4,493.3 L311.2,493.9 L312.0,494.6 L312.8,495.4 L313.6,496.3 L314.4,497.4 L315.2,498.4 L316.0,499.4 L316.8,500.4 L317.6,501.3 L318.4,502.1 L319.2,502.8 L320.0,503.2 L320.9,503.5 L321.7,503.6 L322.5,503.5 L323.3,503.2 L324.1,502.7 L324.9,502.0 L325.7,501.2 L326.5,500.3 L327.3,499.3 L328.1,498.2 L328.9,497.2 L329.7,496.2 L330.5,495.3 L331.3,494.5 L332.1,493.8 L333.0,493.3 L333.8,492.9 L334.6,492.8 L335.4,492.9 L336.2,493.1 L337.0,493.6 L337.8,494.2 L338.6,495.0 L339.4,495.9 L340.2,496.9 L341.0,497.9 L341.8,498.9 L342.6,500.0 L343.4,500.9 L344.2,501.8 L345.1,502.5 L345.9,503.0 L346.7,503.4 L347.5,503.6 L348.3,503.6 L349.1,503.3 L349.9,502.9 L350.7,502.3 L351.5,501.6 L352.3,500.7 L353.1,499.8 L353.9,498.7 L354.7,497.7 L355.5,496.7 L356.4,495.7 L357.2,494.8 L358.0,494.1 L358.8,493.5 L359.6,493.1 L360.4,492.8 L361.2,492.8 L362.0,493.0" fill="none" stroke="#1d5a86" stroke-width="2.7" stroke-linecap="round" stroke-linejoin="round"/>
<path d="M183.6,457.6 C184.7,457.1 187.5,454.5 190.0,454.8 C192.5,455.1 195.8,459.9 198.5,459.4 C201.2,458.9 203.5,454.2 206.0,452.0 C208.5,449.8 211.2,446.4 213.4,446.4 C215.6,446.4 216.8,450.3 219.0,452.0 C221.2,453.7 224.0,457.1 226.5,456.6 C229.0,456.1 231.4,450.6 233.9,449.2 C236.4,447.8 239.5,447.0 241.4,448.2 C243.3,449.4 243.4,454.3 245.1,456.6 C246.8,458.9 248.8,462.0 251.6,462.0 C254.4,462.0 257.7,458.9 261.9,456.6 C266.1,454.3 271.8,450.2 276.8,448.2 C281.8,446.2 286.2,445.3 291.7,444.5 C297.2,443.7 303.6,443.7 310.0,443.5 C316.4,443.3 324.3,443.5 330.0,443.3 C335.7,443.1 340.6,442.8 344.4,442.2 C348.2,441.6 350.4,440.6 353.0,439.5 C355.6,438.4 359.1,436.5 360.3,435.9" fill="none" stroke="#c573b7" stroke-width="2.5" stroke-linecap="round" stroke-linejoin="round"/>
<path d="M149.0,502.1 C149.8,500.4 152.0,495.5 154.0,492.0 C156.0,488.5 158.8,484.3 161.2,480.9 C163.6,477.5 165.8,473.8 168.6,471.5 C171.4,469.2 175.0,468.0 178.0,467.0 C181.0,466.0 184.4,467.3 186.4,465.5 C188.4,463.7 188.6,458.2 190.0,456.0 C191.4,453.8 192.5,451.6 194.8,452.0 C197.1,452.4 201.2,458.2 204.0,458.5 C206.8,458.8 209.0,456.0 211.5,453.8 C214.0,451.6 216.8,446.3 219.0,445.4 C221.2,444.5 222.4,446.5 224.6,448.2 C226.8,449.9 229.5,454.9 232.0,455.7 C234.5,456.5 237.3,453.9 239.5,452.9 C241.7,451.8 243.3,449.0 245.1,449.4 C246.9,449.8 248.8,452.7 250.2,455.0 C251.6,457.3 251.9,461.4 253.5,463.0 C255.1,464.6 257.6,464.4 260.0,464.6 C262.4,464.8 265.8,463.5 268.0,464.4 C270.2,465.2 271.4,466.3 273.5,469.7 C275.6,473.1 278.4,480.2 280.5,484.6 C282.6,489.0 284.2,493.3 286.0,496.0 C287.8,498.7 290.2,500.1 291.0,500.9" fill="none" stroke="#1d5a86" stroke-width="2.5" stroke-linecap="round" stroke-linejoin="round"/>
<text x="112.6" y="485.6" font-size="19" textLength="34.6" lengthAdjust="spacingAndGlyphs">Sp1</text>
<text x="218.40" y="432.6" font-size="18.3" font-weight="normal" textLength="99.15" lengthAdjust="spacingAndGlyphs">Polymerase</text>
<text x="35.40" y="525.6" font-size="18.3" font-weight="normal" textLength="147.85" lengthAdjust="spacingAndGlyphs">Apoptosis-specific</text>
<text x="58.72" y="547.4" font-size="18.3" font-weight="normal" textLength="101.02" lengthAdjust="spacingAndGlyphs">transcription</text>
<line x1="214.4" y1="538.0" x2="214.4" y2="579.2" stroke="#000" stroke-width="2.2"/><polygon points="214.4,587.2 210.2,578.7 218.7,578.7" fill="#000"/>
<rect x="97.2" y="596.85" width="89.5" height="35.1" rx="6.5" ry="6.5" fill="#eef2fb" stroke="#98a7d1" stroke-width="2.3"/>
<rect x="97.2" y="644.25" width="89.5" height="35.1" rx="6.5" ry="6.5" fill="#eef2fb" stroke="#98a7d1" stroke-width="2.3"/>
<text x="101.53" y="621.5" font-size="20.6" font-weight="normal" textLength="76.75" lengthAdjust="spacingAndGlyphs">LINE-2a</text>
<text x="101.51" y="668.9" font-size="20.6" font-weight="normal" textLength="77.61" lengthAdjust="spacingAndGlyphs">LINE-2b</text>
<path d="M240.1,621.6 L241.1,622.1 L242.1,622.5 L243.1,622.6 L244.1,622.5 L245.1,622.2 L246.1,621.7 L247.1,621.1 L248.1,620.2 L249.1,619.3 L250.1,618.2 L251.1,617.0 L252.1,615.8 L253.1,614.6 L254.1,613.4 L255.1,612.2 L256.1,611.1 L257.1,610.2 L258.1,609.4 L259.1,608.8 L260.1,608.3 L261.1,608.1 L262.1,608.0 L263.1,608.2 L264.1,608.5 L265.1,609.1 L266.1,609.8 L267.1,610.7 L268.1,611.7 L269.1,612.9 L270.1,614.1 L271.1,615.3 L272.1,616.5 L273.1,617.7 L274.1,618.8 L275.1,619.9 L276.1,620.8 L277.1,621.5 L278.1,622.1 L279.1,622.4 L280.1,622.6 L281.1,622.6 L282.1,622.3 L283.1,621.9 L284.1,621.2 L285.1,620.4 L286.1,619.5 L287.1,618.4 L288.1,617.3 L289.1,616.0 L290.1,614.8 L291.1,613.6 L292.1,612.4 L293.1,611.3 L294.1,610.4 L295.1,609.5 L296.1,608.9 L297.1,608.4 L298.1,608.1 L299.1,608.0 L300.1,608.1 L301.1,608.5 L302.1,609.0 L303.1,609.7 L304.1,610.5 L305.1,611.5 L306.1,612.6 L307.1,613.8 L308.1,615.0 L309.1,616.3 L310.1,617.5 L311.1,618.6 L312.1,619.7 L313.1,620.6 L314.1,621.4 L315.1,622.0 L316.1,622.4 L317.1,622.6 L318.1,622.6 L319.1,622.4 L320.1,622.0 L321.1,621.4 L322.1,620.6 L323.1,619.7 L324.1,618.6 L325.1,617.5 L326.1,616.3 L327.1,615.1 L328.1,613.8 L329.1,612.7 L330.1,611.6 L331.1,610.6 L332.1,609.7 L333.1,609.0 L334.1,608.5 L335.1,608.1 L336.1,608.0 L337.1,608.1 L338.1,608.4 L339.1,608.9 L340.1,609.5 L341.1,610.4 L342.1,611.3 L343.1,612.4 L344.1,613.6 L345.1,614.8 L346.1,616.0 L347.1,617.2 L348.1,618.4 L349.1,619.5 L350.1,620.4 L351.1,621.2" fill="none" stroke="#c06fb1" stroke-width="3.6" stroke-linecap="butt" stroke-linejoin="round"/>
<path d="M240.1,666.5 L241.1,667.0 L242.1,667.4 L243.1,667.5 L244.1,667.4 L245.1,667.1 L246.1,666.6 L247.1,666.0 L248.1,665.1 L249.1,664.2 L250.1,663.1 L251.1,661.9 L252.1,660.7 L253.1,659.5 L254.1,658.3 L255.1,657.1 L256.1,656.0 L257.1,655.1 L258.1,654.3 L259.1,653.7 L260.1,653.2 L261.1,653.0 L262.1,652.9 L263.1,653.1 L264.1,653.4 L265.1,654.0 L266.1,654.7 L267.1,655.6 L268.1,656.6 L269.1,657.8 L270.1,659.0 L271.1,660.2 L272.1,661.4 L273.1,662.6 L274.1,663.7 L275.1,664.8 L276.1,665.7 L277.1,666.4 L278.1,667.0 L279.1,667.3 L280.1,667.5 L281.1,667.5 L282.1,667.2 L283.1,666.8 L284.1,666.1 L285.1,665.3 L286.1,664.4 L287.1,663.3 L288.1,662.2 L289.1,660.9 L290.1,659.7 L291.1,658.5 L292.1,657.3 L293.1,656.2 L294.1,655.3 L295.1,654.4 L296.1,653.8 L297.1,653.3 L298.1,653.0 L299.1,652.9 L300.1,653.0 L301.1,653.4 L302.1,653.9 L303.1,654.6 L304.1,655.4 L305.1,656.4 L306.1,657.5 L307.1,658.7 L308.1,659.9 L309.1,661.2 L310.1,662.4 L311.1,663.5 L312.1,664.6 L313.1,665.5 L314.1,666.3 L315.1,666.9 L316.1,667.3 L317.1,667.5 L318.1,667.5 L319.1,667.3 L320.1,666.9 L321.1,666.3 L322.1,665.5 L323.1,664.6 L324.1,663.5 L325.1,662.4 L326.1,661.2 L327.1,660.0 L328.1,658.7 L329.1,657.6 L330.1,656.5 L331.1,655.5 L332.1,654.6 L333.1,653.9 L334.1,653.4 L335.1,653.0 L336.1,652.9 L337.1,653.0 L338.1,653.3 L339.1,653.8 L340.1,654.4 L341.1,655.3 L342.1,656.2 L343.1,657.3 L344.1,658.5 L345.1,659.7 L346.1,660.9 L347.1,662.1 L348.1,663.3 L349.1,664.4 L350.1,665.3 L351.1,666.1" fill="none" stroke="#8a2462" stroke-width="3.6" stroke-linecap="butt" stroke-linejoin="round"/>
<text x="436.48" y="320.8" font-size="21" font-weight="bold" textLength="65.90" lengthAdjust="spacingAndGlyphs">ApoVs</text>
<text x="510.71" y="320.8" font-size="21" font-weight="bold" textLength="116.73" lengthAdjust="spacingAndGlyphs">with unique</text>
<text x="409.97" y="342" font-size="21" font-weight="bold" textLength="243.92" lengthAdjust="spacingAndGlyphs">apoptotic L2a/L2b RNAs</text>
<text x="672.2" y="333.5" font-size="21" font-weight="bold" textLength="165.8" lengthAdjust="spacingAndGlyphs"><tspan font-style="italic">Casp-3</tspan><tspan font-style="italic" font-size="13" dy="-6.5">-/-</tspan><tspan dy="6.5"> BMDMs</tspan></text>
<use href="#ves2" transform="translate(503.3,369.2) scale(0.7315)"/>
<use href="#ves2" transform="translate(547.9,369.2) scale(0.7315)"/>
<use href="#ves2" transform="translate(523.5,409.3) scale(0.7315)"/>
<use href="#ves2" transform="translate(568.1,409.3) scale(0.7315)"/>
<path d="M739.5,399.9 C740.9,400.3 746.0,401.9 747.9,402.7 C749.8,403.4 749.6,403.0 751.0,404.5 C752.4,406.0 755.8,409.3 756.3,411.5 C756.8,413.7 755.7,416.1 754.0,417.5 C752.3,418.9 749.2,419.8 746.0,420.0 C742.8,420.2 739.0,419.2 735.0,418.6 C731.0,418.0 725.8,417.1 722.0,416.6 C718.2,416.1 715.1,416.0 712.0,415.8 C708.9,415.6 704.6,415.3 703.1,415.2" fill="none" stroke="#c09095" stroke-width="2.8" stroke-linecap="round"/>
<path d="M683.7,400.0 C684.6,399.6 687.5,401.0 688.2,401.9 C688.9,402.8 688.4,404.1 687.9,405.2 C687.5,406.4 686.9,407.8 685.7,408.6 C684.6,409.4 682.9,409.8 681.1,410.1 C679.2,410.4 676.0,410.6 674.5,410.5 C673.0,410.3 671.9,409.6 672.0,409.2 C672.1,408.8 673.9,408.4 675.3,408.1 C676.7,407.8 679.1,408.1 680.3,407.5 C681.6,406.9 682.4,405.7 682.9,404.5 C683.5,403.3 682.8,400.5 683.7,400.0Z" fill="#c09095"/>
<path d="M722.7,406.2 C724.1,405.6 726.3,405.2 728.3,405.0 C730.3,404.8 733.7,404.5 734.6,405.0 C735.5,405.6 735.0,407.4 733.9,408.3 C732.9,409.1 730.7,409.6 728.3,410.1 C726.0,410.6 721.7,411.2 719.9,411.2 C718.1,411.1 717.4,410.3 717.4,409.8 C717.4,409.3 719.0,408.9 719.9,408.3 C720.8,407.6 721.3,406.7 722.7,406.2Z" fill="#c09095"/>
<path d="M678.7,374.7 C679.0,373.8 680.4,372.7 681.5,372.3 C682.5,372.0 684.3,372.1 685.0,372.6 C685.7,373.1 685.9,374.6 685.7,375.4 C685.4,376.2 684.6,377.1 683.6,377.5 C682.6,377.8 680.5,377.9 679.7,377.5 C678.8,377.0 678.4,375.5 678.7,374.7Z" fill="#3f3c3d"/>
<path d="M660.1,385.6 C660.5,384.6 661.5,383.3 663.3,382.1 C665.1,380.9 668.4,379.3 671.0,378.2 C673.5,377.1 676.1,375.9 678.7,375.7 C681.2,375.4 683.9,376.1 686.4,376.5 C688.8,376.9 690.6,378.1 693.4,378.2 C696.2,378.3 699.9,377.3 703.1,377.1 C706.4,376.8 709.7,376.4 712.9,376.8 C716.2,377.2 719.5,378.1 722.7,379.6 C726.0,381.1 729.7,383.5 732.5,385.9 C735.3,388.2 738.0,391.5 739.5,393.6 C741.0,395.7 741.6,396.9 741.6,398.5 C741.6,400.0 740.8,401.6 739.5,402.7 C738.2,403.8 736.2,404.7 733.9,405.0 C731.6,405.3 728.6,404.6 725.5,404.5 C722.5,404.4 718.8,404.5 715.7,404.5 C712.7,404.5 709.9,404.1 707.3,404.5 C704.8,404.8 702.4,406.0 700.3,406.4 C698.3,406.9 696.5,407.3 694.8,407.3 C693.0,407.2 691.2,407.0 689.9,406.2 C688.5,405.3 687.7,403.4 686.6,402.0 C685.6,400.6 685.0,399.0 683.6,397.8 C682.1,396.5 680.1,395.1 678.0,394.3 C675.9,393.4 673.3,393.6 671.0,392.9 C668.6,392.2 665.7,390.9 664.0,390.1 C662.3,389.3 661.6,388.7 660.9,388.0 C660.3,387.2 659.7,386.6 660.1,385.6Z" fill="#514c4c"/>
<ellipse cx="686.3" cy="381.8" rx="3.9" ry="4.6" fill="#d3a4a6" stroke="#6a4f4b" stroke-width="0.8"/>
<circle cx="671.7" cy="383.5" r="1.1" fill="#111"/>
<path d="M660.1,381.0 L663.3,383.1 M658.7,378.9 L662.6,382.4" stroke="#e8d6dc" stroke-width="0.6" fill="none"/>
<path d="M800.7,359.3 L800.8,360.6 L800.5,361.8 L799.7,362.9 L798.9,363.9 L798.3,364.9 L797.9,366.1 L797.7,367.3 L797.3,368.6 L796.6,369.7 L795.5,370.4 L794.2,370.8 L792.9,371.0 L791.8,371.4 L790.8,372.0 L789.8,372.8 L788.7,373.6 L787.5,373.9 L786.2,373.8 L785.0,373.2 L783.9,372.6 L782.8,372.1 L781.6,372.0 L780.3,372.0 L778.9,371.9 L777.8,371.3 L776.9,370.4 L776.3,369.2 L775.9,368.0 L775.3,366.9 L774.5,366.1 L773.5,365.2 L772.6,364.3 L772.0,363.1 L771.9,361.8 L772.3,360.5 L772.7,359.3 L773.0,358.1 L772.9,357.0 L772.7,355.7 L772.6,354.3 L772.9,353.1 L773.7,352.1 L774.7,351.3 L775.9,350.6 L776.8,349.9 L777.5,348.9 L778.2,347.8 L778.9,346.7 L780.0,346.0 L781.2,345.7 L782.6,345.8 L783.9,346.0 L785.0,346.1 L786.2,345.8 L787.4,345.3 L788.7,345.0 L790.0,345.1 L791.2,345.7 L792.1,346.6 L792.9,347.6 L793.8,348.4 L794.9,348.9 L796.1,349.4 L797.3,350.0 L798.2,350.9 L798.7,352.1 L798.9,353.4 L798.9,354.7 L799.0,355.9 L799.5,357.0 L800.2,358.1Z" fill="#f7dadf" stroke="#f7dadf" stroke-width="0.6"/>
<path d="M837.9,382.5 L837.8,383.4 L838.0,384.4 L838.2,385.4 L838.2,386.4 L837.8,387.4 L837.1,388.1 L836.2,388.7 L835.4,389.2 L834.8,389.9 L834.3,390.8 L833.8,391.7 L833.2,392.5 L832.3,392.9 L831.2,393.0 L830.2,392.9 L829.2,392.8 L828.3,392.9 L827.4,393.3 L826.4,393.7 L825.4,393.8 L824.4,393.6 L823.6,393.0 L822.8,392.3 L822.2,391.6 L821.4,391.1 L820.5,390.8 L819.5,390.4 L818.6,389.9 L818.0,389.1 L817.7,388.1 L817.6,387.1 L817.5,386.1 L817.3,385.2 L816.8,384.4 L816.2,383.5 L815.9,382.5 L815.9,381.5 L816.4,380.6 L817.0,379.7 L817.5,378.9 L817.9,378.1 L818.1,377.1 L818.2,376.1 L818.6,375.1 L819.3,374.4 L820.2,373.9 L821.2,373.7 L822.2,373.4 L823.0,373.0 L823.7,372.4 L824.5,371.7 L825.4,371.2 L826.4,371.0 L827.4,371.3 L828.3,371.7 L829.2,372.2 L830.1,372.4 L831.1,372.4 L832.1,372.3 L833.2,372.5 L834.0,373.1 L834.6,373.9 L835.0,374.9 L835.4,375.8 L836.0,376.5 L836.7,377.1 L837.6,377.8 L838.2,378.6 L838.5,379.5 L838.4,380.6 L838.2,381.6Z" fill="#f7dadf" stroke="#f7dadf" stroke-width="0.6"/>
<path d="M773.2,400.5 L772.8,401.4 L772.4,402.2 L772.2,403.0 L772.2,403.9 L772.2,404.8 L772.1,405.7 L771.6,406.5 L770.8,407.1 L769.9,407.4 L769.1,407.8 L768.5,408.3 L767.9,409.0 L767.3,409.7 L766.6,410.3 L765.7,410.6 L764.8,410.5 L763.9,410.3 L763.0,410.0 L762.2,410.0 L761.3,410.2 L760.4,410.3 L759.4,410.3 L758.6,410.0 L757.9,409.3 L757.4,408.5 L756.9,407.8 L756.3,407.2 L755.5,406.8 L754.7,406.3 L753.9,405.7 L753.5,404.9 L753.4,404.0 L753.5,403.0 L753.6,402.2 L753.5,401.3 L753.2,400.5 L752.9,399.6 L752.7,398.7 L752.9,397.8 L753.4,397.0 L754.1,396.4 L754.7,395.7 L755.2,395.0 L755.5,394.2 L755.8,393.3 L756.3,392.5 L757.0,391.9 L757.9,391.7 L758.9,391.6 L759.7,391.5 L760.5,391.3 L761.3,390.8 L762.1,390.4 L763.0,390.0 L763.9,390.1 L764.8,390.5 L765.5,391.0 L766.3,391.5 L767.0,391.9 L767.9,392.0 L768.8,392.2 L769.7,392.5 L770.4,393.1 L770.8,393.9 L771.0,394.9 L771.3,395.7 L771.6,396.5 L772.2,397.1 L772.8,397.9 L773.3,398.7 L773.4,399.6Z" fill="#f7dadf" stroke="#f7dadf" stroke-width="0.6"/>
<path d="M813.3,415.9 L813.0,416.9 L812.9,417.9 L813.0,419.0 L813.1,420.1 L813.0,421.2 L812.4,422.2 L811.6,422.9 L810.6,423.4 L809.7,424.0 L809.0,424.7 L808.4,425.6 L807.7,426.5 L806.9,427.3 L805.9,427.7 L804.8,427.7 L803.6,427.4 L802.6,427.3 L801.6,427.4 L800.6,427.7 L799.5,428.0 L798.3,428.0 L797.3,427.7 L796.5,426.9 L795.7,426.0 L795.0,425.3 L794.2,424.7 L793.2,424.3 L792.2,423.8 L791.3,423.1 L790.8,422.2 L790.6,421.0 L790.6,419.9 L790.6,418.9 L790.3,417.9 L789.8,416.9 L789.3,415.9 L789.1,414.8 L789.3,413.7 L789.8,412.7 L790.6,411.9 L791.2,411.1 L791.7,410.2 L791.9,409.1 L792.2,408.0 L792.7,407.0 L793.5,406.3 L794.6,405.9 L795.7,405.8 L796.8,405.5 L797.7,405.1 L798.5,404.5 L799.5,403.8 L800.5,403.4 L801.6,403.4 L802.7,403.8 L803.6,404.4 L804.6,404.9 L805.5,405.1 L806.6,405.2 L807.7,405.3 L808.8,405.6 L809.7,406.3 L810.2,407.3 L810.6,408.4 L811.0,409.3 L811.5,410.2 L812.3,410.9 L813.1,411.7 L813.7,412.6 L813.9,413.7 L813.7,414.8Z" fill="#f7dadf" stroke="#f7dadf" stroke-width="0.6"/>
<path d="M840.7,394.0 L840.4,394.7 L840.0,395.4 L839.8,396.1 L839.8,396.8 L839.8,397.6 L839.7,398.4 L839.3,399.1 L838.7,399.6 L837.9,399.9 L837.2,400.2 L836.6,400.6 L836.1,401.2 L835.6,401.8 L835.0,402.3 L834.3,402.6 L833.5,402.6 L832.7,402.4 L832.0,402.1 L831.3,402.1 L830.6,402.2 L829.8,402.3 L829.0,402.3 L828.2,402.1 L827.6,401.5 L827.2,400.9 L826.8,400.2 L826.3,399.7 L825.7,399.3 L824.9,398.9 L824.3,398.4 L823.9,397.8 L823.8,397.0 L823.9,396.2 L824.0,395.4 L823.9,394.7 L823.7,394.0 L823.4,393.2 L823.3,392.5 L823.4,391.7 L823.8,391.0 L824.4,390.5 L825.0,389.9 L825.4,389.4 L825.7,388.7 L825.9,387.9 L826.3,387.2 L826.9,386.7 L827.6,386.5 L828.5,386.4 L829.2,386.4 L829.9,386.2 L830.6,385.8 L831.2,385.4 L832.0,385.1 L832.8,385.1 L833.5,385.4 L834.2,385.9 L834.8,386.4 L835.4,386.7 L836.1,386.8 L836.9,386.9 L837.7,387.2 L838.3,387.7 L838.7,388.4 L838.9,389.2 L839.0,389.9 L839.3,390.6 L839.8,391.2 L840.3,391.8 L840.7,392.5 L840.9,393.2Z" fill="#f7dadf" stroke="#f7dadf" stroke-width="0.6"/>
<path d="M779.5,381.2 L779.4,382.4 L779.6,383.6 L779.8,384.9 L779.7,386.1 L779.1,387.2 L778.1,388.1 L777.1,388.8 L776.3,389.7 L775.7,390.7 L775.2,391.9 L774.5,393.0 L773.4,393.6 L772.1,393.8 L770.8,393.8 L769.6,393.9 L768.5,394.4 L767.4,395.1 L766.2,395.5 L764.9,395.5 L763.8,395.0 L762.7,394.2 L761.7,393.6 L760.6,393.3 L759.3,393.2 L758.0,392.9 L756.9,392.2 L756.2,391.2 L755.8,389.9 L755.4,388.8 L754.7,387.8 L753.8,387.0 L752.8,386.1 L752.3,384.9 L752.2,383.7 L752.6,382.4 L752.9,381.2 L753.0,380.0 L752.8,378.8 L752.6,377.5 L752.7,376.3 L753.3,375.2 L754.3,374.3 L755.3,373.6 L756.1,372.7 L756.7,371.7 L757.2,370.5 L757.9,369.4 L759.0,368.8 L760.3,368.6 L761.6,368.6 L762.8,368.5 L763.9,368.0 L765.0,367.3 L766.2,366.9 L767.5,366.9 L768.6,367.4 L769.7,368.2 L770.7,368.8 L771.8,369.1 L773.1,369.2 L774.4,369.5 L775.5,370.2 L776.2,371.2 L776.6,372.5 L777.0,373.6 L777.7,374.6 L778.6,375.4 L779.6,376.3 L780.1,377.5 L780.2,378.7 L779.8,380.0Z" fill="#f5ced3" stroke="#eebcc4" stroke-width="1"/>
<circle cx="766.2" cy="381.2" r="8.6" fill="#ffffff" opacity="0.16"/>
<circle cx="770.7" cy="381.4" r="5.6" fill="#dd8c97"/>
<path d="M792.6,383.5 L792.9,384.4 L792.8,385.3 L792.3,386.1 L791.7,386.8 L791.2,387.5 L790.9,388.3 L790.7,389.2 L790.4,390.2 L789.9,390.9 L789.1,391.3 L788.1,391.5 L787.3,391.8 L786.6,392.2 L785.9,392.8 L785.2,393.5 L784.3,393.8 L783.4,393.7 L782.5,393.4 L781.7,393.1 L780.8,392.9 L779.9,393.0 L779.0,393.1 L778.1,393.0 L777.3,392.4 L776.8,391.7 L776.3,390.9 L775.7,390.3 L775.0,389.8 L774.2,389.3 L773.5,388.7 L773.1,387.9 L773.1,386.9 L773.1,386.0 L773.1,385.2 L772.8,384.3 L772.4,383.5 L772.1,382.6 L772.2,381.7 L772.7,380.9 L773.3,380.2 L773.8,379.5 L774.1,378.7 L774.3,377.8 L774.6,376.8 L775.1,376.1 L775.9,375.7 L776.9,375.5 L777.7,375.2 L778.4,374.8 L779.1,374.2 L779.8,373.5 L780.7,373.2 L781.6,373.3 L782.5,373.6 L783.3,373.9 L784.2,374.1 L785.1,374.0 L786.0,373.9 L786.9,374.0 L787.7,374.6 L788.2,375.3 L788.7,376.1 L789.3,376.7 L790.0,377.2 L790.8,377.7 L791.5,378.3 L791.9,379.1 L791.9,380.1 L791.9,381.0 L791.9,381.8 L792.2,382.7Z" fill="#f5ced3" stroke="#eebcc4" stroke-width="1"/>
<circle cx="782.5" cy="383.5" r="6.2" fill="#ffffff" opacity="0.16"/>
<path d="M794.0,404.4 L793.4,405.6 L792.8,406.7 L792.4,407.8 L792.4,409.0 L792.4,410.3 L792.2,411.6 L791.4,412.6 L790.4,413.3 L789.2,413.9 L788.2,414.5 L787.4,415.4 L786.7,416.4 L785.8,417.4 L784.6,417.9 L783.3,417.9 L782.0,417.7 L780.8,417.5 L779.7,417.7 L778.5,418.2 L777.2,418.5 L776.0,418.3 L774.9,417.7 L774.0,416.7 L773.1,415.8 L772.1,415.3 L770.9,414.9 L769.7,414.4 L768.7,413.7 L768.1,412.5 L767.8,411.2 L767.7,410.0 L767.3,408.9 L766.6,407.9 L765.8,406.9 L765.3,405.7 L765.4,404.4 L766.0,403.2 L766.6,402.1 L767.0,401.0 L767.0,399.8 L767.0,398.5 L767.2,397.2 L768.0,396.2 L769.0,395.5 L770.2,394.9 L771.2,394.3 L772.0,393.4 L772.7,392.4 L773.6,391.4 L774.8,390.9 L776.1,390.9 L777.4,391.1 L778.6,391.3 L779.7,391.1 L780.9,390.6 L782.2,390.3 L783.4,390.5 L784.5,391.1 L785.4,392.1 L786.3,393.0 L787.3,393.5 L788.5,393.9 L789.7,394.4 L790.7,395.1 L791.3,396.3 L791.6,397.6 L791.7,398.8 L792.1,399.9 L792.8,400.9 L793.6,401.9 L794.1,403.1Z" fill="#f5ced3" stroke="#eebcc4" stroke-width="1"/>
<circle cx="779.7" cy="404.4" r="8.6" fill="#ffffff" opacity="0.16"/>
<circle cx="780.4" cy="403" r="5.6" fill="#dd8c97"/>
<path d="M803.4,372.2 L803.2,373.5 L802.5,374.6 L801.8,375.7 L801.4,376.8 L801.3,378.0 L801.2,379.3 L800.8,380.6 L799.9,381.5 L798.7,382.1 L797.5,382.6 L796.5,383.2 L795.6,384.0 L794.8,385.0 L793.8,385.9 L792.6,386.3 L791.3,386.1 L790.0,385.8 L788.8,385.6 L787.6,385.7 L786.4,386.0 L785.0,386.2 L783.8,385.9 L782.8,385.1 L781.9,384.1 L781.1,383.2 L780.1,382.5 L778.9,382.1 L777.7,381.5 L776.8,380.6 L776.4,379.4 L776.3,378.0 L776.2,376.8 L775.8,375.7 L775.2,374.6 L774.5,373.5 L774.2,372.2 L774.4,370.9 L775.1,369.8 L775.8,368.7 L776.2,367.6 L776.3,366.4 L776.4,365.1 L776.8,363.8 L777.7,362.9 L778.9,362.3 L780.1,361.8 L781.1,361.2 L782.0,360.4 L782.8,359.4 L783.8,358.5 L785.0,358.1 L786.3,358.3 L787.6,358.6 L788.8,358.8 L790.0,358.7 L791.2,358.4 L792.6,358.2 L793.8,358.5 L794.8,359.3 L795.7,360.3 L796.5,361.2 L797.5,361.9 L798.7,362.3 L799.9,362.9 L800.8,363.8 L801.2,365.0 L801.3,366.4 L801.4,367.6 L801.8,368.7 L802.4,369.8 L803.1,370.9Z" fill="#f5ced3" stroke="#eebcc4" stroke-width="1"/>
<circle cx="788.8" cy="372.2" r="8.7" fill="#ffffff" opacity="0.16"/>
<circle cx="788.8" cy="372.2" r="5.7" fill="#dd8c97"/>
<path d="M825.3,371.5 L825.5,372.7 L825.0,373.9 L824.3,375.0 L823.6,376.0 L823.1,377.0 L822.9,378.2 L822.7,379.5 L822.2,380.6 L821.2,381.4 L820.0,381.9 L818.8,382.2 L817.8,382.8 L816.9,383.6 L816.0,384.5 L815.0,385.2 L813.7,385.4 L812.5,385.1 L811.3,384.7 L810.2,384.4 L809.0,384.6 L807.7,384.8 L806.5,384.8 L805.3,384.3 L804.4,383.4 L803.7,382.4 L803.0,381.5 L802.0,380.8 L800.8,380.3 L799.7,379.6 L799.0,378.6 L798.7,377.4 L798.8,376.1 L798.7,374.9 L798.4,373.8 L797.8,372.7 L797.3,371.5 L797.1,370.3 L797.6,369.1 L798.3,368.0 L799.0,367.0 L799.5,366.0 L799.7,364.8 L799.9,363.5 L800.4,362.4 L801.4,361.6 L802.6,361.1 L803.8,360.8 L804.8,360.2 L805.7,359.4 L806.6,358.5 L807.6,357.8 L808.9,357.6 L810.1,357.9 L811.3,358.3 L812.4,358.6 L813.6,358.4 L814.9,358.2 L816.1,358.2 L817.3,358.7 L818.2,359.6 L818.9,360.6 L819.6,361.5 L820.6,362.2 L821.8,362.7 L822.9,363.4 L823.6,364.4 L823.9,365.6 L823.8,366.9 L823.9,368.1 L824.2,369.2 L824.8,370.3Z" fill="#f5ced3" stroke="#eebcc4" stroke-width="1"/>
<circle cx="811.3" cy="371.5" r="8.4" fill="#ffffff" opacity="0.16"/>
<circle cx="811.3" cy="371.5" r="5.7" fill="#dd8c97"/>
<path d="M830.7,397.9 L830.3,399.1 L829.6,400.2 L829.1,401.3 L829.0,402.5 L829.0,403.8 L828.8,405.1 L828.2,406.2 L827.1,406.9 L826.0,407.5 L824.9,408.0 L824.0,408.8 L823.3,409.8 L822.4,410.8 L821.3,411.4 L820.1,411.5 L818.8,411.3 L817.6,411.1 L816.4,411.2 L815.2,411.5 L813.9,411.9 L812.7,411.8 L811.5,411.3 L810.6,410.3 L809.8,409.4 L808.8,408.7 L807.7,408.3 L806.4,407.9 L805.4,407.2 L804.7,406.1 L804.4,404.8 L804.3,403.5 L804.0,402.4 L803.4,401.4 L802.6,400.3 L802.1,399.2 L802.1,397.9 L802.5,396.7 L803.2,395.6 L803.7,394.5 L803.8,393.3 L803.8,392.0 L804.0,390.7 L804.6,389.6 L805.7,388.9 L806.8,388.3 L807.9,387.8 L808.8,387.0 L809.5,386.0 L810.4,385.0 L811.5,384.4 L812.7,384.3 L814.0,384.5 L815.2,384.7 L816.4,384.6 L817.6,384.3 L818.9,383.9 L820.1,384.0 L821.3,384.5 L822.2,385.5 L823.0,386.4 L824.0,387.1 L825.1,387.5 L826.4,387.9 L827.4,388.6 L828.1,389.7 L828.4,391.0 L828.5,392.3 L828.8,393.4 L829.4,394.4 L830.2,395.5 L830.7,396.6Z" fill="#f5ced3" stroke="#eebcc4" stroke-width="1"/>
<circle cx="816.4" cy="397.9" r="8.6" fill="#ffffff" opacity="0.16"/>
<circle cx="817" cy="398.2" r="5.7" fill="#dd8c97"/>
<path d="M810.8,390.8 L810.7,392.2 L810.1,393.4 L809.3,394.6 L808.7,395.7 L808.4,397.0 L808.3,398.4 L808.0,399.7 L807.2,400.8 L806.0,401.6 L804.6,402.0 L803.4,402.5 L802.4,403.4 L801.5,404.4 L800.5,405.4 L799.3,405.9 L797.9,405.9 L796.5,405.5 L795.2,405.2 L793.9,405.2 L792.6,405.5 L791.2,405.7 L789.8,405.5 L788.7,404.8 L787.8,403.7 L786.9,402.6 L786.0,401.8 L784.7,401.3 L783.4,400.7 L782.4,399.8 L781.8,398.6 L781.6,397.1 L781.6,395.8 L781.4,394.5 L780.7,393.3 L780.0,392.1 L779.6,390.8 L779.7,389.4 L780.3,388.2 L781.1,387.0 L781.7,385.9 L782.0,384.6 L782.1,383.2 L782.4,381.9 L783.2,380.8 L784.4,380.0 L785.8,379.6 L787.0,379.1 L788.0,378.2 L788.9,377.2 L789.9,376.2 L791.1,375.7 L792.5,375.7 L793.9,376.1 L795.2,376.4 L796.5,376.4 L797.8,376.1 L799.2,375.9 L800.6,376.1 L801.7,376.8 L802.6,377.9 L803.5,379.0 L804.4,379.8 L805.7,380.3 L807.0,380.9 L808.0,381.8 L808.6,383.0 L808.8,384.5 L808.8,385.8 L809.0,387.1 L809.7,388.3 L810.4,389.5Z" fill="#f5ced3" stroke="#eebcc4" stroke-width="1"/>
<circle cx="795.2" cy="390.8" r="9.3" fill="#ffffff" opacity="0.16"/>
<circle cx="796.5" cy="390.8" r="6" fill="#dd8c97"/>
<path d="M543.2,465.5 L542.7,466.6 L542.1,467.6 L541.8,468.6 L541.7,469.6 L541.7,470.8 L541.6,472.0 L541.0,473.0 L540.2,473.8 L539.1,474.3 L538.0,474.7 L537.1,475.2 L536.4,476.0 L535.6,476.9 L534.7,477.7 L533.7,478.2 L532.5,478.2 L531.4,477.9 L530.3,477.5 L529.3,477.3 L528.2,477.4 L527.0,477.7 L525.9,477.7 L524.8,477.4 L523.9,476.6 L523.2,475.7 L522.6,474.7 L521.9,473.9 L521.0,473.3 L520.0,472.7 L519.0,472.0 L518.4,471.0 L518.2,469.9 L518.3,468.7 L518.5,467.6 L518.5,466.5 L518.2,465.5 L517.8,464.4 L517.5,463.2 L517.6,462.1 L518.2,461.1 L519.1,460.3 L519.9,459.5 L520.6,458.7 L521.0,457.7 L521.4,456.6 L521.9,455.5 L522.8,454.8 L523.9,454.4 L525.1,454.3 L526.2,454.2 L527.2,454.0 L528.2,453.6 L529.2,453.0 L530.3,452.5 L531.4,452.4 L532.5,452.8 L533.5,453.5 L534.4,454.2 L535.3,454.7 L536.4,455.0 L537.5,455.2 L538.7,455.5 L539.6,456.2 L540.2,457.2 L540.5,458.4 L540.7,459.5 L541.1,460.5 L541.7,461.4 L542.5,462.2 L543.1,463.2 L543.4,464.4Z" fill="#f8e2d7" stroke="#f8e2d7" stroke-width="0.6"/>
<path d="M587.3,491.4 L587.5,492.3 L587.8,493.3 L587.9,494.4 L587.6,495.3 L587.0,496.2 L586.2,496.8 L585.4,497.4 L584.8,498.1 L584.4,499.0 L584.0,500.0 L583.4,500.8 L582.6,501.4 L581.6,501.6 L580.5,501.6 L579.5,501.6 L578.6,501.7 L577.7,502.1 L576.8,502.6 L575.8,502.8 L574.8,502.7 L573.9,502.3 L573.1,501.6 L572.4,500.9 L571.6,500.5 L570.6,500.2 L569.6,500.0 L568.7,499.5 L568.0,498.8 L567.6,497.9 L567.4,496.8 L567.3,495.8 L567.0,495.0 L566.4,494.2 L565.8,493.3 L565.4,492.4 L565.3,491.4 L565.6,490.4 L566.1,489.5 L566.6,488.7 L567.0,487.8 L567.1,486.9 L567.1,485.8 L567.4,484.8 L568.0,484.0 L568.8,483.4 L569.8,483.1 L570.8,482.8 L571.6,482.3 L572.3,481.7 L573.0,480.9 L573.8,480.3 L574.8,480.1 L575.8,480.2 L576.8,480.6 L577.7,480.9 L578.6,481.1 L579.6,481.0 L580.6,480.9 L581.7,481.0 L582.6,481.4 L583.3,482.2 L583.8,483.1 L584.2,484.0 L584.8,484.7 L585.6,485.2 L586.5,485.8 L587.2,486.5 L587.6,487.5 L587.7,488.5 L587.5,489.5 L587.3,490.5Z" fill="#f8e2d7" stroke="#f8e2d7" stroke-width="0.6"/>
<path d="M560.0,524.4 L560.1,525.5 L559.7,526.6 L559.0,527.5 L558.3,528.3 L557.8,529.2 L557.6,530.2 L557.4,531.3 L557.0,532.4 L556.4,533.3 L555.5,533.9 L554.4,534.2 L553.3,534.4 L552.3,534.7 L551.5,535.3 L550.6,536.0 L549.7,536.7 L548.6,537.0 L547.5,536.8 L546.5,536.3 L545.5,535.8 L544.5,535.4 L543.5,535.3 L542.4,535.3 L541.3,535.2 L540.3,534.7 L539.5,533.9 L539.0,532.9 L538.7,531.8 L538.2,530.9 L537.4,530.2 L536.6,529.5 L535.8,528.7 L535.3,527.7 L535.3,526.6 L535.6,525.4 L536.0,524.4 L536.1,523.4 L536.1,522.4 L535.9,521.3 L535.8,520.1 L536.1,519.1 L536.8,518.2 L537.7,517.5 L538.7,517.0 L539.4,516.3 L540.0,515.5 L540.6,514.5 L541.3,513.6 L542.2,513.0 L543.3,512.8 L544.4,512.9 L545.5,513.0 L546.5,513.0 L547.5,512.8 L548.5,512.4 L549.7,512.1 L550.8,512.2 L551.7,512.8 L552.6,513.6 L553.3,514.4 L554.0,515.1 L555.0,515.5 L556.0,515.9 L557.0,516.4 L557.8,517.2 L558.2,518.2 L558.3,519.3 L558.3,520.5 L558.5,521.4 L558.9,522.4 L559.5,523.4Z" fill="#f8e2d7" stroke="#f8e2d7" stroke-width="0.6"/>
<path d="M513.7,509.8 L513.9,510.7 L513.6,511.6 L513.1,512.4 L512.5,513.1 L512.0,513.8 L511.7,514.6 L511.6,515.5 L511.3,516.4 L510.8,517.2 L510.1,517.7 L509.1,518.0 L508.2,518.2 L507.4,518.4 L506.7,518.9 L506.0,519.4 L505.2,520.0 L504.3,520.3 L503.4,520.2 L502.5,519.8 L501.7,519.3 L500.9,519.0 L500.1,518.9 L499.2,518.8 L498.2,518.8 L497.4,518.4 L496.7,517.7 L496.3,516.9 L496.0,516.0 L495.6,515.2 L495.1,514.6 L494.4,514.0 L493.7,513.3 L493.3,512.5 L493.2,511.6 L493.4,510.7 L493.7,509.8 L493.9,509.0 L493.9,508.1 L493.8,507.2 L493.7,506.3 L493.9,505.4 L494.4,504.6 L495.2,504.1 L496.0,503.6 L496.7,503.1 L497.2,502.4 L497.7,501.6 L498.2,500.8 L499.0,500.3 L499.9,500.1 L500.8,500.1 L501.7,500.3 L502.6,500.3 L503.4,500.2 L504.3,499.9 L505.2,499.6 L506.1,499.7 L506.9,500.1 L507.6,500.7 L508.2,501.4 L508.8,502.0 L509.6,502.4 L510.5,502.7 L511.3,503.2 L512.0,503.8 L512.4,504.6 L512.5,505.6 L512.5,506.5 L512.6,507.3 L512.9,508.1 L513.3,508.9Z" fill="#f8e2d7" stroke="#f8e2d7" stroke-width="0.6"/>
<path d="M579.2,477.0 L579.5,477.7 L579.7,478.5 L579.6,479.3 L579.3,480.0 L578.7,480.6 L578.1,481.1 L577.6,481.6 L577.3,482.3 L577.0,483.0 L576.7,483.7 L576.1,484.3 L575.4,484.6 L574.6,484.7 L573.8,484.7 L573.1,484.8 L572.4,485.1 L571.7,485.5 L571.0,485.8 L570.2,485.9 L569.5,485.7 L568.8,485.2 L568.2,484.7 L567.6,484.3 L566.9,484.1 L566.1,484.0 L565.3,483.7 L564.7,483.3 L564.3,482.7 L564.0,481.9 L563.9,481.1 L563.7,480.4 L563.3,479.8 L562.8,479.2 L562.3,478.5 L562.1,477.8 L562.2,477.0 L562.5,476.3 L562.9,475.6 L563.2,474.9 L563.3,474.2 L563.3,473.4 L563.4,472.6 L563.7,471.9 L564.3,471.3 L565.0,471.0 L565.7,470.7 L566.4,470.4 L566.9,469.9 L567.4,469.3 L568.0,468.7 L568.7,468.4 L569.5,468.3 L570.3,468.5 L571.0,468.8 L571.7,469.0 L572.4,468.9 L573.2,468.8 L574.0,468.7 L574.8,468.9 L575.4,469.4 L575.9,470.0 L576.3,470.7 L576.7,471.3 L577.3,471.7 L578.0,472.1 L578.6,472.6 L579.1,473.2 L579.3,474.0 L579.2,474.8 L579.1,475.6 L579.0,476.3Z" fill="#f8e2d7" stroke="#f8e2d7" stroke-width="0.6"/>
<path d="M526.1,490.2 L526.5,491.5 L526.4,492.7 L525.8,493.9 L524.9,494.9 L524.1,495.9 L523.7,496.9 L523.4,498.2 L523.1,499.5 L522.3,500.5 L521.2,501.2 L519.9,501.5 L518.7,501.8 L517.7,502.4 L516.7,503.2 L515.7,504.1 L514.5,504.6 L513.3,504.6 L512.0,504.1 L510.8,503.6 L509.7,503.4 L508.4,503.5 L507.1,503.6 L505.8,503.4 L504.7,502.8 L503.9,501.7 L503.3,500.6 L502.5,499.7 L501.5,499.0 L500.4,498.3 L499.4,497.5 L498.8,496.4 L498.7,495.0 L498.8,493.7 L498.8,492.5 L498.5,491.4 L497.9,490.2 L497.5,488.9 L497.6,487.7 L498.2,486.5 L499.1,485.5 L499.9,484.5 L500.3,483.5 L500.6,482.2 L500.9,480.9 L501.7,479.9 L502.8,479.2 L504.1,478.9 L505.3,478.6 L506.3,478.0 L507.3,477.2 L508.3,476.3 L509.5,475.8 L510.7,475.8 L512.0,476.3 L513.2,476.8 L514.3,477.0 L515.6,476.9 L516.9,476.8 L518.2,477.0 L519.3,477.6 L520.1,478.7 L520.7,479.8 L521.5,480.7 L522.5,481.4 L523.6,482.1 L524.6,482.9 L525.2,484.0 L525.3,485.4 L525.2,486.7 L525.2,487.9 L525.5,489.0Z" fill="#f5d5c3" stroke="#eabfa9" stroke-width="1"/>
<circle cx="512" cy="490.2" r="8.7" fill="#ffffff" opacity="0.16"/>
<circle cx="515.7" cy="489" r="5.8" fill="#d9a693"/>
<path d="M537.8,497.0 L537.9,497.9 L537.7,498.8 L537.1,499.6 L536.5,500.3 L536.2,501.0 L536.0,501.9 L535.9,502.8 L535.5,503.7 L534.8,504.3 L533.9,504.7 L533.1,504.9 L532.3,505.3 L531.6,505.8 L531.0,506.5 L530.2,507.1 L529.3,507.2 L528.4,507.1 L527.5,506.7 L526.7,506.5 L525.8,506.5 L524.9,506.7 L524.0,506.7 L523.1,506.5 L522.4,505.8 L521.9,505.0 L521.4,504.3 L520.7,503.8 L519.9,503.4 L519.0,502.9 L518.5,502.2 L518.2,501.3 L518.2,500.4 L518.2,499.5 L518.1,498.7 L517.6,497.9 L517.2,497.0 L517.1,496.1 L517.3,495.2 L517.9,494.4 L518.5,493.7 L518.8,493.0 L519.0,492.1 L519.1,491.2 L519.5,490.3 L520.2,489.7 L521.1,489.3 L521.9,489.1 L522.7,488.7 L523.4,488.2 L524.0,487.5 L524.8,486.9 L525.7,486.8 L526.6,486.9 L527.5,487.3 L528.3,487.5 L529.2,487.5 L530.1,487.3 L531.0,487.3 L531.9,487.5 L532.6,488.2 L533.1,489.0 L533.6,489.7 L534.3,490.2 L535.1,490.6 L536.0,491.1 L536.5,491.8 L536.8,492.7 L536.8,493.6 L536.8,494.5 L536.9,495.3 L537.4,496.1Z" fill="#f5d5c3" stroke="#eabfa9" stroke-width="1"/>
<circle cx="527.5" cy="497" r="6.2" fill="#ffffff" opacity="0.16"/>
<path d="M537.6,513.4 L537.6,514.6 L537.9,515.8 L538.2,517.1 L537.9,518.4 L537.2,519.5 L536.2,520.3 L535.2,521.1 L534.5,522.0 L534.0,523.2 L533.4,524.4 L532.6,525.4 L531.4,525.9 L530.1,526.0 L528.8,526.1 L527.7,526.3 L526.6,526.9 L525.4,527.6 L524.2,528.0 L522.9,527.9 L521.8,527.2 L520.7,526.5 L519.6,526.0 L518.4,525.8 L517.1,525.7 L515.8,525.3 L514.8,524.6 L514.2,523.4 L513.8,522.2 L513.2,521.1 L512.5,520.2 L511.5,519.3 L510.6,518.4 L510.1,517.2 L510.2,515.9 L510.5,514.6 L510.8,513.4 L510.8,512.2 L510.5,511.0 L510.2,509.7 L510.5,508.4 L511.2,507.3 L512.2,506.5 L513.2,505.7 L513.9,504.8 L514.4,503.6 L515.0,502.4 L515.8,501.4 L517.0,500.9 L518.3,500.8 L519.6,500.7 L520.7,500.5 L521.8,499.9 L523.0,499.2 L524.2,498.8 L525.5,498.9 L526.6,499.6 L527.7,500.3 L528.8,500.8 L530.0,501.0 L531.3,501.1 L532.6,501.5 L533.6,502.2 L534.2,503.4 L534.6,504.6 L535.2,505.7 L535.9,506.6 L536.9,507.5 L537.8,508.4 L538.3,509.6 L538.2,510.9 L537.9,512.2Z" fill="#f5d5c3" stroke="#eabfa9" stroke-width="1"/>
<circle cx="524.2" cy="513.4" r="8.7" fill="#ffffff" opacity="0.16"/>
<circle cx="525.5" cy="512" r="5.8" fill="#d9a693"/>
<path d="M548.6,479.2 L548.3,480.5 L547.6,481.6 L547.0,482.7 L546.6,483.8 L546.6,485.1 L546.4,486.4 L546.0,487.6 L545.1,488.5 L543.9,489.1 L542.7,489.5 L541.7,490.2 L540.9,491.1 L540.0,492.1 L539.0,492.9 L537.8,493.2 L536.4,493.0 L535.2,492.7 L534.0,492.6 L532.8,492.8 L531.5,493.2 L530.2,493.3 L529.0,492.9 L528.0,492.0 L527.2,491.0 L526.3,490.2 L525.3,489.6 L524.1,489.1 L522.9,488.5 L522.0,487.6 L521.7,486.3 L521.6,485.0 L521.4,483.8 L521.0,482.7 L520.3,481.6 L519.6,480.5 L519.4,479.2 L519.7,477.9 L520.4,476.8 L521.0,475.7 L521.4,474.6 L521.4,473.3 L521.6,472.0 L522.0,470.8 L522.9,469.9 L524.1,469.3 L525.3,468.9 L526.3,468.2 L527.1,467.3 L528.0,466.3 L529.0,465.5 L530.2,465.2 L531.6,465.4 L532.8,465.7 L534.0,465.8 L535.2,465.6 L536.5,465.2 L537.8,465.1 L539.0,465.5 L540.0,466.4 L540.8,467.4 L541.7,468.2 L542.7,468.8 L543.9,469.3 L545.1,469.9 L546.0,470.8 L546.3,472.1 L546.4,473.4 L546.6,474.6 L547.0,475.7 L547.7,476.8 L548.4,477.9Z" fill="#f5d5c3" stroke="#eabfa9" stroke-width="1"/>
<circle cx="534" cy="479.2" r="8.7" fill="#ffffff" opacity="0.16"/>
<circle cx="534" cy="480" r="5.8" fill="#d9a693"/>
<path d="M571.5,479.2 L571.2,480.4 L570.5,481.5 L569.9,482.6 L569.6,483.7 L569.5,484.9 L569.4,486.2 L568.9,487.4 L568.0,488.2 L566.9,488.8 L565.7,489.2 L564.8,489.9 L564.0,490.8 L563.2,491.8 L562.2,492.5 L560.9,492.8 L559.7,492.6 L558.4,492.3 L557.3,492.2 L556.1,492.4 L554.9,492.8 L553.6,492.9 L552.5,492.5 L551.5,491.7 L550.7,490.7 L549.8,489.8 L548.8,489.3 L547.6,488.9 L546.5,488.3 L545.7,487.3 L545.3,486.1 L545.2,484.8 L545.1,483.6 L544.6,482.6 L543.9,481.6 L543.3,480.4 L543.1,479.2 L543.4,478.0 L544.1,476.9 L544.7,475.8 L545.0,474.7 L545.1,473.5 L545.2,472.2 L545.7,471.0 L546.6,470.2 L547.7,469.6 L548.9,469.2 L549.8,468.5 L550.6,467.6 L551.4,466.6 L552.4,465.9 L553.7,465.6 L554.9,465.8 L556.2,466.1 L557.3,466.2 L558.5,466.0 L559.7,465.6 L561.0,465.5 L562.1,465.9 L563.1,466.7 L563.9,467.7 L564.8,468.6 L565.8,469.1 L567.0,469.5 L568.1,470.1 L568.9,471.1 L569.3,472.3 L569.4,473.6 L569.5,474.8 L570.0,475.8 L570.7,476.8 L571.3,478.0Z" fill="#f5d5c3" stroke="#eabfa9" stroke-width="1"/>
<circle cx="557.3" cy="479.2" r="8.4" fill="#ffffff" opacity="0.16"/>
<circle cx="557" cy="479.5" r="5.8" fill="#d9a693"/>
<path d="M577.2,506.1 L576.8,507.3 L576.6,508.4 L576.8,509.7 L576.9,511.0 L576.7,512.3 L575.9,513.3 L574.8,514.1 L573.7,514.8 L572.9,515.6 L572.2,516.6 L571.6,517.8 L570.7,518.8 L569.5,519.2 L568.2,519.3 L566.9,519.2 L565.7,519.3 L564.6,519.7 L563.4,520.3 L562.1,520.6 L560.9,520.4 L559.7,519.8 L558.7,518.9 L557.7,518.2 L556.6,517.9 L555.3,517.6 L554.1,517.2 L553.1,516.4 L552.5,515.3 L552.2,514.0 L551.8,512.8 L551.2,511.8 L550.3,510.9 L549.4,509.8 L549.0,508.6 L549.1,507.3 L549.6,506.1 L550.0,504.9 L550.2,503.8 L550.0,502.5 L549.9,501.2 L550.1,499.9 L550.9,498.9 L552.0,498.1 L553.1,497.4 L553.9,496.6 L554.6,495.6 L555.2,494.4 L556.1,493.4 L557.3,493.0 L558.6,492.9 L559.9,493.0 L561.1,492.9 L562.2,492.5 L563.4,491.9 L564.7,491.6 L565.9,491.8 L567.1,492.4 L568.1,493.3 L569.1,494.0 L570.2,494.3 L571.5,494.6 L572.7,495.0 L573.7,495.8 L574.3,496.9 L574.6,498.2 L575.0,499.4 L575.6,500.4 L576.5,501.3 L577.4,502.4 L577.8,503.6 L577.7,504.9Z" fill="#f5d5c3" stroke="#eabfa9" stroke-width="1"/>
<circle cx="563.4" cy="506.1" r="8.7" fill="#ffffff" opacity="0.16"/>
<circle cx="563.4" cy="506.1" r="5.8" fill="#d9a693"/>
<path d="M557.1,498.7 L556.5,500.0 L555.8,501.2 L555.4,502.5 L555.4,503.8 L555.4,505.2 L555.1,506.6 L554.3,507.7 L553.1,508.5 L551.8,509.1 L550.7,509.8 L549.9,510.8 L549.1,512.0 L548.1,513.0 L546.8,513.6 L545.4,513.6 L544.0,513.3 L542.7,513.2 L541.4,513.4 L540.1,513.9 L538.7,514.2 L537.3,514.0 L536.1,513.3 L535.1,512.2 L534.1,511.3 L533.0,510.7 L531.7,510.3 L530.3,509.8 L529.2,508.9 L528.6,507.7 L528.4,506.2 L528.2,504.9 L527.7,503.7 L526.9,502.6 L526.1,501.4 L525.6,500.1 L525.7,498.7 L526.3,497.4 L527.0,496.2 L527.4,494.9 L527.4,493.6 L527.4,492.2 L527.7,490.8 L528.5,489.7 L529.7,488.9 L531.0,488.3 L532.1,487.6 L532.9,486.6 L533.7,485.4 L534.7,484.4 L536.0,483.8 L537.4,483.8 L538.8,484.1 L540.1,484.2 L541.4,484.0 L542.7,483.5 L544.1,483.2 L545.5,483.4 L546.7,484.1 L547.7,485.2 L548.7,486.1 L549.8,486.7 L551.1,487.1 L552.5,487.6 L553.6,488.5 L554.2,489.7 L554.4,491.2 L554.6,492.5 L555.1,493.7 L555.9,494.8 L556.7,496.0 L557.2,497.3Z" fill="#f5d5c3" stroke="#eabfa9" stroke-width="1"/>
<circle cx="541.4" cy="498.7" r="9.4" fill="#ffffff" opacity="0.16"/>
<circle cx="541.8" cy="498.7" r="6.2" fill="#d9a693"/>
<line x1="596.4" y1="390.5" x2="642.0" y2="390.5" stroke="#000" stroke-width="2.2"/><polygon points="650.0,390.5 641.5,394.8 641.5,386.2" fill="#000"/>
<line x1="540.0" y1="429.5" x2="540.0" y2="446.0" stroke="#000" stroke-width="2.2"/><polygon points="540.0,453.5 536.0,445.5 544.0,445.5" fill="#000"/>
<line x1="751.8" y1="429.5" x2="751.8" y2="446.5" stroke="#000" stroke-width="2.2"/><polygon points="751.8,454.0 747.8,446.0 755.8,446.0" fill="#000"/>
<text x="434.70" y="508" font-size="19.7" font-weight="bold" textLength="57.48" lengthAdjust="spacingAndGlyphs">THP-1</text>
<line x1="604.0" y1="498.8" x2="681.4" y2="498.8" stroke="#000" stroke-width="2.2"/><polygon points="689.4,498.8 680.9,503.0 680.9,494.5" fill="#000"/>
<rect x="719.45" y="465.65" width="68.9" height="28.3" rx="5.5" ry="5.5" fill="#e1e9f8" stroke="#93a6d4" stroke-width="1.9"/>
<rect x="719.45" y="496.45" width="68.9" height="28.5" rx="5.5" ry="5.5" fill="#e1e9f8" stroke="#93a6d4" stroke-width="1.9"/>
<text x="728.86" y="488.5" font-size="20.3" font-weight="normal" textLength="47.02" lengthAdjust="spacingAndGlyphs">IFNβ</text>
<text x="729.87" y="519.7" font-size="20.3" font-weight="normal" textLength="47.73" lengthAdjust="spacingAndGlyphs">ISGs</text>
<line x1="754.7" y1="536.3" x2="754.7" y2="553.8" stroke="#000" stroke-width="2.2"/><polygon points="754.7,561.3 750.7,553.3 758.7,553.3" fill="#000"/>
<g fill="none" stroke="#171a2c" stroke-width="1.8" stroke-dasharray="6 3.9">
<ellipse cx="540.9" cy="634" rx="119.7" ry="93.7"/>
<line x1="719" y1="484" x2="545" y2="540.5"/>
<line x1="719.3" y1="516.3" x2="660.3" y2="646"/>
</g>
<g stroke="#2b2b2b" stroke-width="1.5" fill="none"><line x1="475.2" y1="670.5" x2="475.2" y2="577"/><line x1="474.5" y1="669.8" x2="616" y2="669.8"/></g>
<polygon points="475.2,568.6 471,579 479.4,579" fill="#111"/><polygon points="624.2,669.8 614,665.6 614,674" fill="#111"/>
<path d="M476.5,669.6 C490,669 497,649 510.6,648.8 C524,648.6 526,667.3 536.6,667.2 C555,667 558,591 581.3,591 C600,591 610,640 614.7,665.5" fill="none" stroke="#4674b3" stroke-width="1.6"/>
<line x1="482.1" y1="685.5" x2="482.1" y2="677.3" stroke="#000" stroke-width="2"/><polygon points="482.1,671.3 485.6,677.8 478.6,677.8" fill="#000"/>
<line x1="539.8" y1="685.5" x2="539.8" y2="677.3" stroke="#000" stroke-width="2"/><polygon points="539.8,671.3 543.3,677.8 536.3,677.8" fill="#000"/>
<text x="444.65" y="700.5" font-size="17.8" font-weight="normal" textLength="62.24" lengthAdjust="spacingAndGlyphs">Primary</text>
<text x="538.29" y="700.5" font-size="17.8" font-weight="normal" textLength="85.82" lengthAdjust="spacingAndGlyphs">Secondary</text>
<text x="444.85" y="721.6" font-size="18.2" font-weight="normal" textLength="270.59" lengthAdjust="spacingAndGlyphs">stimulation exposure to pathogen</text>
<text transform="translate(460.3,668.9) rotate(-90)" font-size="14.5" textLength="95.4" lengthAdjust="spacingAndGlyphs">Innate immune</text>
<text transform="translate(469.6,649.4) rotate(-90)" font-size="14.6" textLength="60.5" lengthAdjust="spacingAndGlyphs">response</text>
<g transform="translate(734.7,597.2)"><line x1="6.2" y1="1.3" x2="10.1" y2="2.0" stroke="#5aae59" stroke-width="1.1"/><circle cx="10.1" cy="2.0" r="1.45" fill="#58ab57"/><line x1="4.9" y1="4.0" x2="8.0" y2="6.5" stroke="#5aae59" stroke-width="1.1"/><circle cx="8.0" cy="6.5" r="1.45" fill="#58ab57"/><line x1="2.5" y1="5.8" x2="4.1" y2="9.5" stroke="#5aae59" stroke-width="1.1"/><circle cx="4.1" cy="9.5" r="1.45" fill="#58ab57"/><line x1="-0.5" y1="6.3" x2="-0.8" y2="10.3" stroke="#5aae59" stroke-width="1.1"/><circle cx="-0.8" cy="10.3" r="1.45" fill="#58ab57"/><line x1="-3.4" y1="5.3" x2="-5.5" y2="8.7" stroke="#5aae59" stroke-width="1.1"/><circle cx="-5.5" cy="8.7" r="1.45" fill="#58ab57"/><line x1="-5.5" y1="3.2" x2="-8.9" y2="5.2" stroke="#5aae59" stroke-width="1.1"/><circle cx="-8.9" cy="5.2" r="1.45" fill="#58ab57"/><line x1="-6.3" y1="0.3" x2="-10.3" y2="0.4" stroke="#5aae59" stroke-width="1.1"/><circle cx="-10.3" cy="0.4" r="1.45" fill="#58ab57"/><line x1="-5.7" y1="-2.7" x2="-9.3" y2="-4.4" stroke="#5aae59" stroke-width="1.1"/><circle cx="-9.3" cy="-4.4" r="1.45" fill="#58ab57"/><line x1="-3.8" y1="-5.0" x2="-6.2" y2="-8.2" stroke="#5aae59" stroke-width="1.1"/><circle cx="-6.2" cy="-8.2" r="1.45" fill="#58ab57"/><line x1="-1.0" y1="-6.2" x2="-1.7" y2="-10.2" stroke="#5aae59" stroke-width="1.1"/><circle cx="-1.7" cy="-10.2" r="1.45" fill="#58ab57"/><line x1="2.0" y1="-6.0" x2="3.2" y2="-9.8" stroke="#5aae59" stroke-width="1.1"/><circle cx="3.2" cy="-9.8" r="1.45" fill="#58ab57"/><line x1="4.5" y1="-4.4" x2="7.4" y2="-7.1" stroke="#5aae59" stroke-width="1.1"/><circle cx="7.4" cy="-7.1" r="1.45" fill="#58ab57"/><line x1="6.0" y1="-1.8" x2="9.9" y2="-2.9" stroke="#5aae59" stroke-width="1.1"/><circle cx="9.9" cy="-2.9" r="1.45" fill="#58ab57"/><circle r="6.3" fill="#a2d69d" stroke="#4b9e4a" stroke-width="1.4"/><circle r="3.9" fill="#b4ddb1" opacity="0.7"/></g>
<g transform="translate(774.3,592.1)"><line x1="9.1" y1="1.8" x2="15.4" y2="3.1" stroke="#5aae59" stroke-width="1.5"/><circle cx="15.4" cy="3.1" r="2.05" fill="#58ab57"/><line x1="7.4" y1="5.6" x2="12.5" y2="9.5" stroke="#5aae59" stroke-width="1.5"/><circle cx="12.5" cy="9.5" r="2.05" fill="#58ab57"/><line x1="4.2" y1="8.3" x2="7.2" y2="14.0" stroke="#5aae59" stroke-width="1.5"/><circle cx="7.2" cy="14.0" r="2.05" fill="#58ab57"/><line x1="0.2" y1="9.3" x2="0.4" y2="15.7" stroke="#5aae59" stroke-width="1.5"/><circle cx="0.4" cy="15.7" r="2.05" fill="#58ab57"/><line x1="-3.8" y1="8.5" x2="-6.5" y2="14.3" stroke="#5aae59" stroke-width="1.5"/><circle cx="-6.5" cy="14.3" r="2.05" fill="#58ab57"/><line x1="-7.1" y1="6.0" x2="-12.0" y2="10.1" stroke="#5aae59" stroke-width="1.5"/><circle cx="-12.0" cy="10.1" r="2.05" fill="#58ab57"/><line x1="-9.0" y1="2.3" x2="-15.2" y2="3.9" stroke="#5aae59" stroke-width="1.5"/><circle cx="-15.2" cy="3.9" r="2.05" fill="#58ab57"/><line x1="-9.1" y1="-1.8" x2="-15.4" y2="-3.1" stroke="#5aae59" stroke-width="1.5"/><circle cx="-15.4" cy="-3.1" r="2.05" fill="#58ab57"/><line x1="-7.4" y1="-5.6" x2="-12.5" y2="-9.5" stroke="#5aae59" stroke-width="1.5"/><circle cx="-12.5" cy="-9.5" r="2.05" fill="#58ab57"/><line x1="-4.2" y1="-8.3" x2="-7.2" y2="-14.0" stroke="#5aae59" stroke-width="1.5"/><circle cx="-7.2" cy="-14.0" r="2.05" fill="#58ab57"/><line x1="-0.2" y1="-9.3" x2="-0.4" y2="-15.7" stroke="#5aae59" stroke-width="1.5"/><circle cx="-0.4" cy="-15.7" r="2.05" fill="#58ab57"/><line x1="3.8" y1="-8.5" x2="6.5" y2="-14.3" stroke="#5aae59" stroke-width="1.5"/><circle cx="6.5" cy="-14.3" r="2.05" fill="#58ab57"/><line x1="7.1" y1="-6.0" x2="12.0" y2="-10.1" stroke="#5aae59" stroke-width="1.5"/><circle cx="12.0" cy="-10.1" r="2.05" fill="#58ab57"/><line x1="9.0" y1="-2.3" x2="15.2" y2="-3.9" stroke="#5aae59" stroke-width="1.5"/><circle cx="15.2" cy="-3.9" r="2.05" fill="#58ab57"/><circle r="9.3" fill="#a2d69d" stroke="#4b9e4a" stroke-width="1.9"/><circle r="5.8" fill="#b4ddb1" opacity="0.7"/></g>
<g transform="translate(722.1,626.1)"><line x1="9.1" y1="1.8" x2="15.4" y2="3.1" stroke="#5aae59" stroke-width="1.5"/><circle cx="15.4" cy="3.1" r="2.05" fill="#58ab57"/><line x1="7.4" y1="5.6" x2="12.5" y2="9.5" stroke="#5aae59" stroke-width="1.5"/><circle cx="12.5" cy="9.5" r="2.05" fill="#58ab57"/><line x1="4.2" y1="8.3" x2="7.2" y2="14.0" stroke="#5aae59" stroke-width="1.5"/><circle cx="7.2" cy="14.0" r="2.05" fill="#58ab57"/><line x1="0.2" y1="9.3" x2="0.4" y2="15.7" stroke="#5aae59" stroke-width="1.5"/><circle cx="0.4" cy="15.7" r="2.05" fill="#58ab57"/><line x1="-3.8" y1="8.5" x2="-6.5" y2="14.3" stroke="#5aae59" stroke-width="1.5"/><circle cx="-6.5" cy="14.3" r="2.05" fill="#58ab57"/><line x1="-7.1" y1="6.0" x2="-12.0" y2="10.1" stroke="#5aae59" stroke-width="1.5"/><circle cx="-12.0" cy="10.1" r="2.05" fill="#58ab57"/><line x1="-9.0" y1="2.3" x2="-15.2" y2="3.9" stroke="#5aae59" stroke-width="1.5"/><circle cx="-15.2" cy="3.9" r="2.05" fill="#58ab57"/><line x1="-9.1" y1="-1.8" x2="-15.4" y2="-3.1" stroke="#5aae59" stroke-width="1.5"/><circle cx="-15.4" cy="-3.1" r="2.05" fill="#58ab57"/><line x1="-7.4" y1="-5.6" x2="-12.5" y2="-9.5" stroke="#5aae59" stroke-width="1.5"/><circle cx="-12.5" cy="-9.5" r="2.05" fill="#58ab57"/><line x1="-4.2" y1="-8.3" x2="-7.2" y2="-14.0" stroke="#5aae59" stroke-width="1.5"/><circle cx="-7.2" cy="-14.0" r="2.05" fill="#58ab57"/><line x1="-0.2" y1="-9.3" x2="-0.4" y2="-15.7" stroke="#5aae59" stroke-width="1.5"/><circle cx="-0.4" cy="-15.7" r="2.05" fill="#58ab57"/><line x1="3.8" y1="-8.5" x2="6.5" y2="-14.3" stroke="#5aae59" stroke-width="1.5"/><circle cx="6.5" cy="-14.3" r="2.05" fill="#58ab57"/><line x1="7.1" y1="-6.0" x2="12.0" y2="-10.1" stroke="#5aae59" stroke-width="1.5"/><circle cx="12.0" cy="-10.1" r="2.05" fill="#58ab57"/><line x1="9.0" y1="-2.3" x2="15.2" y2="-3.9" stroke="#5aae59" stroke-width="1.5"/><circle cx="15.2" cy="-3.9" r="2.05" fill="#58ab57"/><circle r="9.3" fill="#a2d69d" stroke="#4b9e4a" stroke-width="1.9"/><circle r="5.8" fill="#b4ddb1" opacity="0.7"/></g>
<g transform="translate(755,620.6)"><line x1="6.2" y1="1.3" x2="9.9" y2="2.0" stroke="#5aae59" stroke-width="1.1"/><circle cx="9.9" cy="2.0" r="1.45" fill="#58ab57"/><line x1="4.9" y1="4.0" x2="7.8" y2="6.4" stroke="#5aae59" stroke-width="1.1"/><circle cx="7.8" cy="6.4" r="1.45" fill="#58ab57"/><line x1="2.5" y1="5.8" x2="4.0" y2="9.3" stroke="#5aae59" stroke-width="1.1"/><circle cx="4.0" cy="9.3" r="1.45" fill="#58ab57"/><line x1="-0.5" y1="6.3" x2="-0.8" y2="10.1" stroke="#5aae59" stroke-width="1.1"/><circle cx="-0.8" cy="10.1" r="1.45" fill="#58ab57"/><line x1="-3.4" y1="5.3" x2="-5.4" y2="8.5" stroke="#5aae59" stroke-width="1.1"/><circle cx="-5.4" cy="8.5" r="1.45" fill="#58ab57"/><line x1="-5.5" y1="3.2" x2="-8.7" y2="5.1" stroke="#5aae59" stroke-width="1.1"/><circle cx="-8.7" cy="5.1" r="1.45" fill="#58ab57"/><line x1="-6.3" y1="0.3" x2="-10.1" y2="0.4" stroke="#5aae59" stroke-width="1.1"/><circle cx="-10.1" cy="0.4" r="1.45" fill="#58ab57"/><line x1="-5.7" y1="-2.7" x2="-9.1" y2="-4.3" stroke="#5aae59" stroke-width="1.1"/><circle cx="-9.1" cy="-4.3" r="1.45" fill="#58ab57"/><line x1="-3.8" y1="-5.0" x2="-6.1" y2="-8.1" stroke="#5aae59" stroke-width="1.1"/><circle cx="-6.1" cy="-8.1" r="1.45" fill="#58ab57"/><line x1="-1.0" y1="-6.2" x2="-1.6" y2="-10.0" stroke="#5aae59" stroke-width="1.1"/><circle cx="-1.6" cy="-10.0" r="1.45" fill="#58ab57"/><line x1="2.0" y1="-6.0" x2="3.2" y2="-9.6" stroke="#5aae59" stroke-width="1.1"/><circle cx="3.2" cy="-9.6" r="1.45" fill="#58ab57"/><line x1="4.5" y1="-4.4" x2="7.3" y2="-7.0" stroke="#5aae59" stroke-width="1.1"/><circle cx="7.3" cy="-7.0" r="1.45" fill="#58ab57"/><line x1="6.0" y1="-1.8" x2="9.7" y2="-2.8" stroke="#5aae59" stroke-width="1.1"/><circle cx="9.7" cy="-2.8" r="1.45" fill="#58ab57"/><circle r="6.3" fill="#a2d69d" stroke="#4b9e4a" stroke-width="1.4"/><circle r="3.9" fill="#b4ddb1" opacity="0.7"/></g>
<g transform="translate(791,629.7)"><line x1="5.9" y1="1.2" x2="9.7" y2="2.0" stroke="#5aae59" stroke-width="1.1"/><circle cx="9.7" cy="2.0" r="1.45" fill="#58ab57"/><line x1="4.7" y1="3.8" x2="7.7" y2="6.3" stroke="#5aae59" stroke-width="1.1"/><circle cx="7.7" cy="6.3" r="1.45" fill="#58ab57"/><line x1="2.4" y1="5.5" x2="3.9" y2="9.1" stroke="#5aae59" stroke-width="1.1"/><circle cx="3.9" cy="9.1" r="1.45" fill="#58ab57"/><line x1="-0.5" y1="6.0" x2="-0.8" y2="9.9" stroke="#5aae59" stroke-width="1.1"/><circle cx="-0.8" cy="9.9" r="1.45" fill="#58ab57"/><line x1="-3.2" y1="5.1" x2="-5.3" y2="8.4" stroke="#5aae59" stroke-width="1.1"/><circle cx="-5.3" cy="8.4" r="1.45" fill="#58ab57"/><line x1="-5.2" y1="3.0" x2="-8.6" y2="5.0" stroke="#5aae59" stroke-width="1.1"/><circle cx="-8.6" cy="5.0" r="1.45" fill="#58ab57"/><line x1="-6.0" y1="0.2" x2="-9.9" y2="0.4" stroke="#5aae59" stroke-width="1.1"/><circle cx="-9.9" cy="0.4" r="1.45" fill="#58ab57"/><line x1="-5.4" y1="-2.6" x2="-9.0" y2="-4.2" stroke="#5aae59" stroke-width="1.1"/><circle cx="-9.0" cy="-4.2" r="1.45" fill="#58ab57"/><line x1="-3.6" y1="-4.8" x2="-6.0" y2="-7.9" stroke="#5aae59" stroke-width="1.1"/><circle cx="-6.0" cy="-7.9" r="1.45" fill="#58ab57"/><line x1="-1.0" y1="-5.9" x2="-1.6" y2="-9.8" stroke="#5aae59" stroke-width="1.1"/><circle cx="-1.6" cy="-9.8" r="1.45" fill="#58ab57"/><line x1="1.9" y1="-5.7" x2="3.1" y2="-9.4" stroke="#5aae59" stroke-width="1.1"/><circle cx="3.1" cy="-9.4" r="1.45" fill="#58ab57"/><line x1="4.3" y1="-4.2" x2="7.1" y2="-6.9" stroke="#5aae59" stroke-width="1.1"/><circle cx="7.1" cy="-6.9" r="1.45" fill="#58ab57"/><line x1="5.8" y1="-1.7" x2="9.5" y2="-2.8" stroke="#5aae59" stroke-width="1.1"/><circle cx="9.5" cy="-2.8" r="1.45" fill="#58ab57"/><circle r="6" fill="#a2d69d" stroke="#4b9e4a" stroke-width="1.4"/><circle r="3.7" fill="#b4ddb1" opacity="0.7"/></g>
<g transform="translate(756.7,652.5)"><line x1="9.1" y1="1.8" x2="15.4" y2="3.1" stroke="#5aae59" stroke-width="1.5"/><circle cx="15.4" cy="3.1" r="2.05" fill="#58ab57"/><line x1="7.4" y1="5.6" x2="12.5" y2="9.5" stroke="#5aae59" stroke-width="1.5"/><circle cx="12.5" cy="9.5" r="2.05" fill="#58ab57"/><line x1="4.2" y1="8.3" x2="7.2" y2="14.0" stroke="#5aae59" stroke-width="1.5"/><circle cx="7.2" cy="14.0" r="2.05" fill="#58ab57"/><line x1="0.2" y1="9.3" x2="0.4" y2="15.7" stroke="#5aae59" stroke-width="1.5"/><circle cx="0.4" cy="15.7" r="2.05" fill="#58ab57"/><line x1="-3.8" y1="8.5" x2="-6.5" y2="14.3" stroke="#5aae59" stroke-width="1.5"/><circle cx="-6.5" cy="14.3" r="2.05" fill="#58ab57"/><line x1="-7.1" y1="6.0" x2="-12.0" y2="10.1" stroke="#5aae59" stroke-width="1.5"/><circle cx="-12.0" cy="10.1" r="2.05" fill="#58ab57"/><line x1="-9.0" y1="2.3" x2="-15.2" y2="3.9" stroke="#5aae59" stroke-width="1.5"/><circle cx="-15.2" cy="3.9" r="2.05" fill="#58ab57"/><line x1="-9.1" y1="-1.8" x2="-15.4" y2="-3.1" stroke="#5aae59" stroke-width="1.5"/><circle cx="-15.4" cy="-3.1" r="2.05" fill="#58ab57"/><line x1="-7.4" y1="-5.6" x2="-12.5" y2="-9.5" stroke="#5aae59" stroke-width="1.5"/><circle cx="-12.5" cy="-9.5" r="2.05" fill="#58ab57"/><line x1="-4.2" y1="-8.3" x2="-7.2" y2="-14.0" stroke="#5aae59" stroke-width="1.5"/><circle cx="-7.2" cy="-14.0" r="2.05" fill="#58ab57"/><line x1="-0.2" y1="-9.3" x2="-0.4" y2="-15.7" stroke="#5aae59" stroke-width="1.5"/><circle cx="-0.4" cy="-15.7" r="2.05" fill="#58ab57"/><line x1="3.8" y1="-8.5" x2="6.5" y2="-14.3" stroke="#5aae59" stroke-width="1.5"/><circle cx="6.5" cy="-14.3" r="2.05" fill="#58ab57"/><line x1="7.1" y1="-6.0" x2="12.0" y2="-10.1" stroke="#5aae59" stroke-width="1.5"/><circle cx="12.0" cy="-10.1" r="2.05" fill="#58ab57"/><line x1="9.0" y1="-2.3" x2="15.2" y2="-3.9" stroke="#5aae59" stroke-width="1.5"/><circle cx="15.2" cy="-3.9" r="2.05" fill="#58ab57"/><circle r="9.3" fill="#a2d69d" stroke="#4b9e4a" stroke-width="1.9"/><circle r="5.8" fill="#b4ddb1" opacity="0.7"/></g>
<text x="712.87" y="696.6" font-size="20.8" font-weight="bold" textLength="85.24" lengthAdjust="spacingAndGlyphs">Antiviral</text>
</svg></body></html>
